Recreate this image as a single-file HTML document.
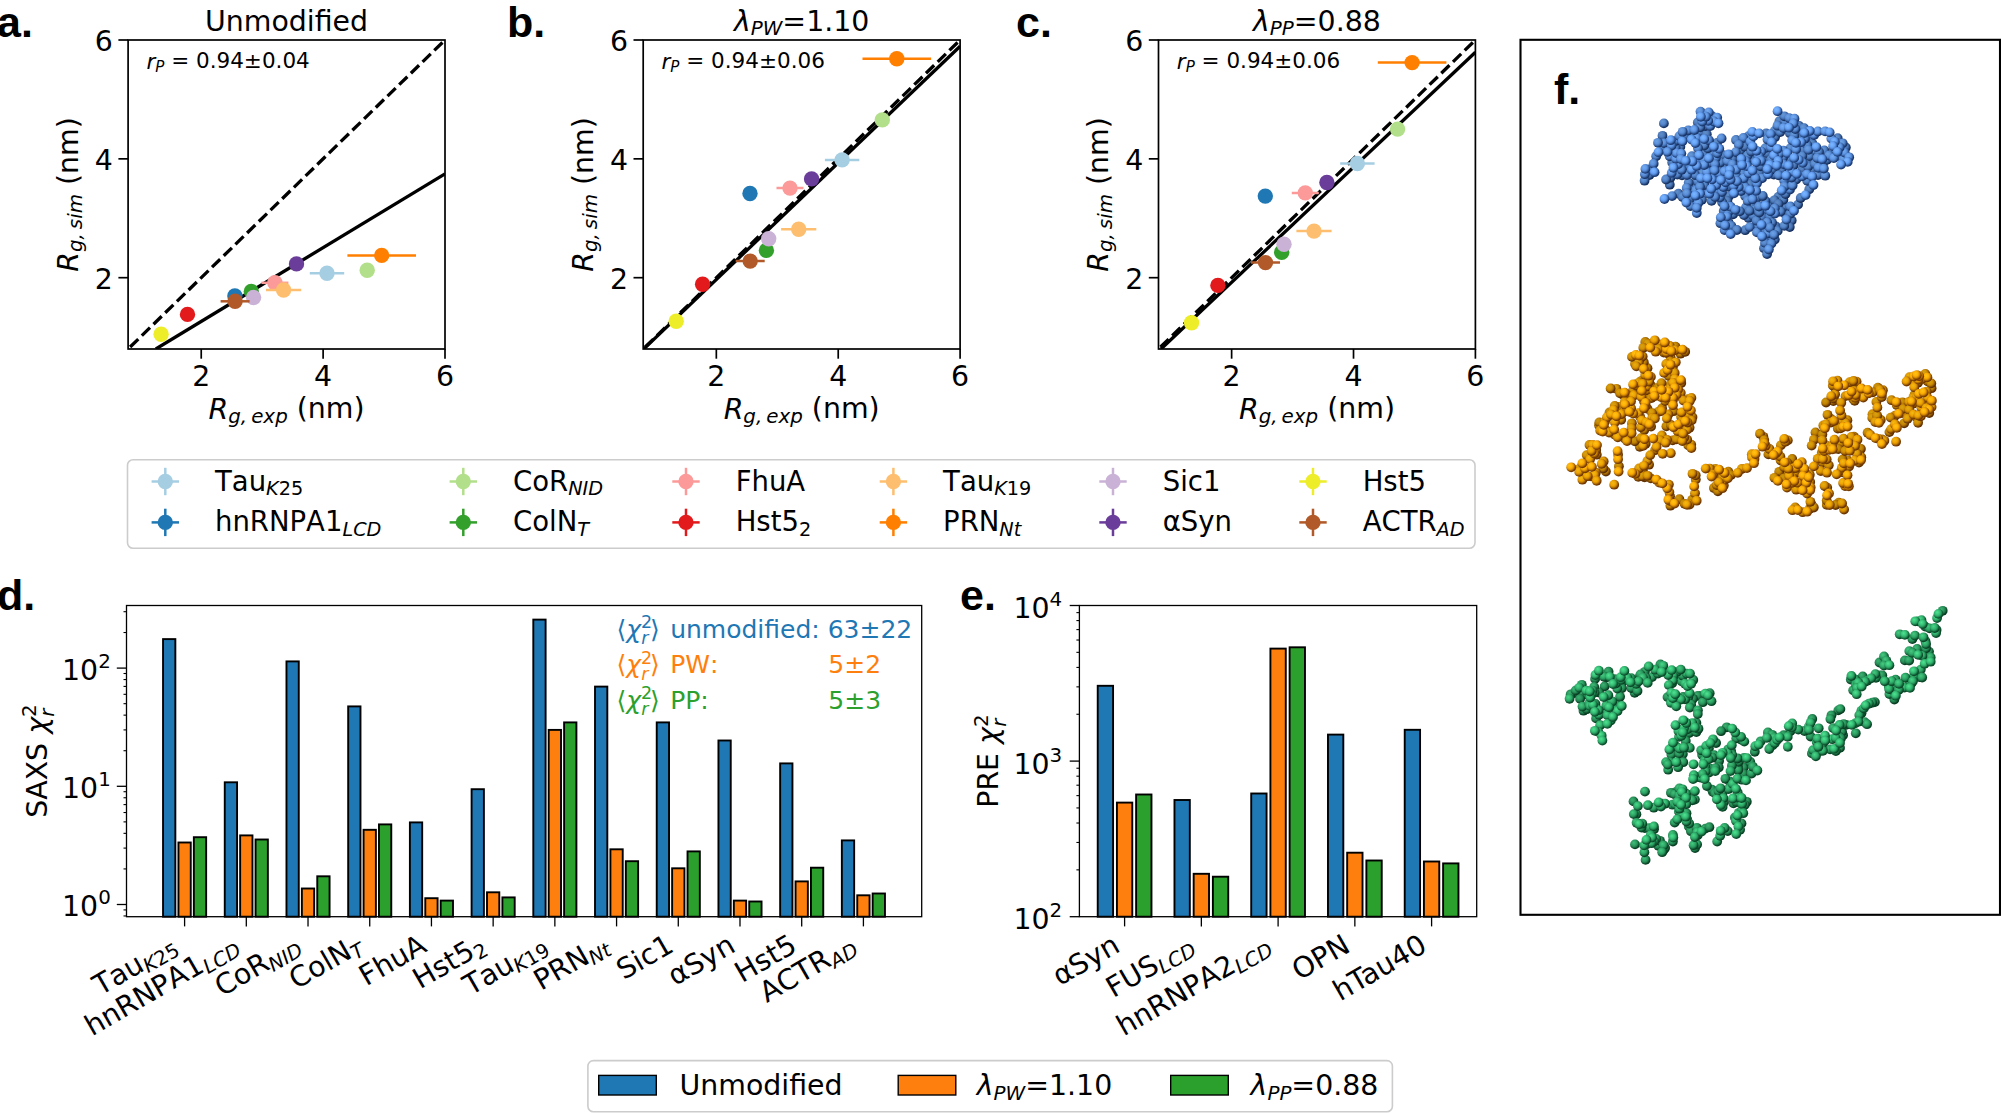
<!DOCTYPE html>
<html><head><meta charset="utf-8"><title>Figure</title>
<style>html,body{margin:0;padding:0;background:#fff;}svg{display:block;font-family:"DejaVu Sans", "Liberation Sans", sans-serif;}</style></head>
<body><svg width="2001" height="1113" viewBox="0 0 2001 1113">
<rect width="2001" height="1113" fill="#fff"/>
<clipPath id="cp0"><rect x="128.1" y="40.0" width="316.9" height="309.0"/></clipPath>
<g clip-path="url(#cp0)">
<line x1="155.80" y1="349.00" x2="445.00" y2="173.80" stroke="#000" stroke-width="3.3" />
<line x1="128.10" y1="349.00" x2="445.00" y2="40.00" stroke="#000" stroke-width="3.3" stroke-dasharray="11.4 4.94" stroke-dashoffset="13.51"/>
<line x1="309.80" y1="273.20" x2="344.20" y2="273.20" stroke="#a6cee3" stroke-width="2.5" />
<circle cx="327.00" cy="273.20" r="7.7" fill="#a6cee3"/>
<circle cx="234.90" cy="295.90" r="7.7" fill="#1f78b4"/>
<circle cx="367.20" cy="270.30" r="7.7" fill="#b2df8a"/>
<circle cx="251.30" cy="291.40" r="7.7" fill="#33a02c"/>
<line x1="261.40" y1="282.80" x2="288.40" y2="282.80" stroke="#fb9a99" stroke-width="2.5" />
<circle cx="274.90" cy="282.80" r="7.7" fill="#fb9a99"/>
<circle cx="187.50" cy="314.40" r="7.7" fill="#e31a1c"/>
<line x1="266.00" y1="290.00" x2="301.20" y2="290.00" stroke="#fdbf6f" stroke-width="2.5" />
<circle cx="283.60" cy="290.00" r="7.7" fill="#fdbf6f"/>
<line x1="347.40" y1="255.40" x2="416.00" y2="255.40" stroke="#ff7f00" stroke-width="2.5" />
<circle cx="381.70" cy="255.40" r="7.7" fill="#ff7f00"/>
<line x1="250.10" y1="297.50" x2="257.10" y2="297.50" stroke="#cab2d6" stroke-width="2.5" />
<circle cx="253.60" cy="297.50" r="7.7" fill="#cab2d6"/>
<circle cx="296.50" cy="263.90" r="7.7" fill="#6a3d9a"/>
<circle cx="161.10" cy="334.20" r="7.7" fill="#eded2a"/>
<line x1="220.60" y1="301.30" x2="249.60" y2="301.30" stroke="#b15928" stroke-width="2.5" />
<circle cx="235.10" cy="301.30" r="7.7" fill="#b15928"/>
</g>
<rect x="128.10" y="40.00" width="316.90" height="309.00" fill="none" stroke="#000" stroke-width="1.7" />
<line x1="201.23" y1="349.00" x2="201.23" y2="358.70" stroke="#000" stroke-width="1.7" />
<text x="201.23" y="385.90" font-size="28.40" text-anchor="middle" fill="#000" font-weight="normal" >2</text>
<line x1="118.40" y1="277.69" x2="128.10" y2="277.69" stroke="#000" stroke-width="1.7" />
<text x="112.90" y="289.09" font-size="28.40" text-anchor="end" fill="#000" font-weight="normal" >2</text>
<line x1="323.12" y1="349.00" x2="323.12" y2="358.70" stroke="#000" stroke-width="1.7" />
<text x="323.12" y="385.90" font-size="28.40" text-anchor="middle" fill="#000" font-weight="normal" >4</text>
<line x1="118.40" y1="158.85" x2="128.10" y2="158.85" stroke="#000" stroke-width="1.7" />
<text x="112.90" y="170.25" font-size="28.40" text-anchor="end" fill="#000" font-weight="normal" >4</text>
<line x1="445.00" y1="349.00" x2="445.00" y2="358.70" stroke="#000" stroke-width="1.7" />
<text x="445.00" y="385.90" font-size="28.40" text-anchor="middle" fill="#000" font-weight="normal" >6</text>
<line x1="118.40" y1="40.00" x2="128.10" y2="40.00" stroke="#000" stroke-width="1.7" />
<text x="112.90" y="51.40" font-size="28.40" text-anchor="end" fill="#000" font-weight="normal" >6</text>
<text x="286.55" y="31.20" font-size="28.40" text-anchor="middle" fill="#000" font-weight="normal" >Unmodified</text>
<text x="146.40" y="68.50" font-size="21.50" text-anchor="start" fill="#000" font-weight="normal"  style="font-kerning:none"><tspan font-style="italic">r</tspan><tspan font-size="70%" dy="0.214em" font-style="italic">P</tspan><tspan font-size="1%" dy="-15.0em">&#8203;</tspan> = 0.94±0.04</text>
<text x="286.55" y="418.50" font-size="28.40" text-anchor="middle" fill="#000" font-weight="normal"  style="font-kerning:none"><tspan font-style="italic">R</tspan><tspan font-size="70%" dy="0.214em" font-style="italic">g,<tspan dx="0.2em">exp</tspan></tspan><tspan font-size="1%" dy="-15.0em">&#8203;</tspan> (nm)</text>
<g transform="translate(77.60,194.50) rotate(-90)">
<text x="0.00" y="0.00" font-size="28.40" text-anchor="middle" fill="#000" font-weight="normal"  style="font-kerning:none"><tspan font-style="italic">R</tspan><tspan font-size="70%" dy="0.214em" font-style="italic">g,<tspan dx="0.2em">sim</tspan></tspan><tspan font-size="1%" dy="-15.0em">&#8203;</tspan> (nm)</text>
</g>
<text x="-3.00" y="37.00" font-size="43.00" text-anchor="start" fill="#000" font-weight="bold" font-family="Liberation Sans, Arial, sans-serif">a.</text>
<clipPath id="cp1"><rect x="643.2" y="40.0" width="316.9" height="309.0"/></clipPath>
<g clip-path="url(#cp1)">
<line x1="643.70" y1="349.00" x2="960.10" y2="46.30" stroke="#000" stroke-width="3.3" />
<line x1="643.20" y1="349.00" x2="960.10" y2="40.00" stroke="#000" stroke-width="3.3" stroke-dasharray="11.4 4.94" stroke-dashoffset="13.51"/>
<line x1="824.90" y1="159.90" x2="859.30" y2="159.90" stroke="#a6cee3" stroke-width="2.5" />
<circle cx="842.10" cy="159.90" r="7.7" fill="#a6cee3"/>
<circle cx="750.00" cy="193.50" r="7.7" fill="#1f78b4"/>
<circle cx="882.30" cy="119.90" r="7.7" fill="#b2df8a"/>
<circle cx="766.40" cy="250.40" r="7.7" fill="#33a02c"/>
<line x1="776.50" y1="188.10" x2="803.50" y2="188.10" stroke="#fb9a99" stroke-width="2.5" />
<circle cx="790.00" cy="188.10" r="7.7" fill="#fb9a99"/>
<circle cx="702.60" cy="284.20" r="7.7" fill="#e31a1c"/>
<line x1="781.10" y1="229.30" x2="816.30" y2="229.30" stroke="#fdbf6f" stroke-width="2.5" />
<circle cx="798.70" cy="229.30" r="7.7" fill="#fdbf6f"/>
<line x1="862.50" y1="58.80" x2="931.10" y2="58.80" stroke="#ff7f00" stroke-width="2.5" />
<circle cx="896.80" cy="58.80" r="7.7" fill="#ff7f00"/>
<line x1="765.20" y1="238.80" x2="772.20" y2="238.80" stroke="#cab2d6" stroke-width="2.5" />
<circle cx="768.70" cy="238.80" r="7.7" fill="#cab2d6"/>
<circle cx="811.60" cy="178.90" r="7.7" fill="#6a3d9a"/>
<circle cx="676.20" cy="321.30" r="7.7" fill="#eded2a"/>
<line x1="735.70" y1="261.10" x2="764.70" y2="261.10" stroke="#b15928" stroke-width="2.5" />
<circle cx="750.20" cy="261.10" r="7.7" fill="#b15928"/>
</g>
<rect x="643.20" y="40.00" width="316.90" height="309.00" fill="none" stroke="#000" stroke-width="1.7" />
<line x1="716.33" y1="349.00" x2="716.33" y2="358.70" stroke="#000" stroke-width="1.7" />
<text x="716.33" y="385.90" font-size="28.40" text-anchor="middle" fill="#000" font-weight="normal" >2</text>
<line x1="633.50" y1="277.69" x2="643.20" y2="277.69" stroke="#000" stroke-width="1.7" />
<text x="628.00" y="289.09" font-size="28.40" text-anchor="end" fill="#000" font-weight="normal" >2</text>
<line x1="838.22" y1="349.00" x2="838.22" y2="358.70" stroke="#000" stroke-width="1.7" />
<text x="838.22" y="385.90" font-size="28.40" text-anchor="middle" fill="#000" font-weight="normal" >4</text>
<line x1="633.50" y1="158.85" x2="643.20" y2="158.85" stroke="#000" stroke-width="1.7" />
<text x="628.00" y="170.25" font-size="28.40" text-anchor="end" fill="#000" font-weight="normal" >4</text>
<line x1="960.10" y1="349.00" x2="960.10" y2="358.70" stroke="#000" stroke-width="1.7" />
<text x="960.10" y="385.90" font-size="28.40" text-anchor="middle" fill="#000" font-weight="normal" >6</text>
<line x1="633.50" y1="40.00" x2="643.20" y2="40.00" stroke="#000" stroke-width="1.7" />
<text x="628.00" y="51.40" font-size="28.40" text-anchor="end" fill="#000" font-weight="normal" >6</text>
<text x="801.65" y="31.20" font-size="28.40" text-anchor="middle" fill="#000" font-weight="normal"  style="font-kerning:none"><tspan font-style="italic">λ</tspan><tspan font-size="70%" dy="0.214em" font-style="italic">PW</tspan><tspan font-size="1%" dy="-15.0em">&#8203;</tspan>=1.10</text>
<text x="661.50" y="68.50" font-size="21.50" text-anchor="start" fill="#000" font-weight="normal"  style="font-kerning:none"><tspan font-style="italic">r</tspan><tspan font-size="70%" dy="0.214em" font-style="italic">P</tspan><tspan font-size="1%" dy="-15.0em">&#8203;</tspan> = 0.94±0.06</text>
<text x="801.65" y="418.50" font-size="28.40" text-anchor="middle" fill="#000" font-weight="normal"  style="font-kerning:none"><tspan font-style="italic">R</tspan><tspan font-size="70%" dy="0.214em" font-style="italic">g,<tspan dx="0.2em">exp</tspan></tspan><tspan font-size="1%" dy="-15.0em">&#8203;</tspan> (nm)</text>
<g transform="translate(592.70,194.50) rotate(-90)">
<text x="0.00" y="0.00" font-size="28.40" text-anchor="middle" fill="#000" font-weight="normal"  style="font-kerning:none"><tspan font-style="italic">R</tspan><tspan font-size="70%" dy="0.214em" font-style="italic">g,<tspan dx="0.2em">sim</tspan></tspan><tspan font-size="1%" dy="-15.0em">&#8203;</tspan> (nm)</text>
</g>
<text x="507.00" y="37.00" font-size="43.00" text-anchor="start" fill="#000" font-weight="bold" font-family="Liberation Sans, Arial, sans-serif">b.</text>
<clipPath id="cp2"><rect x="1158.5" y="40.0" width="316.9" height="309.0"/></clipPath>
<g clip-path="url(#cp2)">
<line x1="1161.00" y1="349.00" x2="1475.40" y2="52.20" stroke="#000" stroke-width="3.3" />
<line x1="1158.50" y1="349.00" x2="1475.40" y2="40.00" stroke="#000" stroke-width="3.3" stroke-dasharray="11.4 4.94" stroke-dashoffset="13.51"/>
<line x1="1340.20" y1="163.50" x2="1374.60" y2="163.50" stroke="#a6cee3" stroke-width="2.5" />
<circle cx="1357.40" cy="163.50" r="7.7" fill="#a6cee3"/>
<circle cx="1265.30" cy="196.10" r="7.7" fill="#1f78b4"/>
<circle cx="1397.60" cy="129.10" r="7.7" fill="#b2df8a"/>
<circle cx="1281.70" cy="252.20" r="7.7" fill="#33a02c"/>
<line x1="1291.80" y1="192.90" x2="1318.80" y2="192.90" stroke="#fb9a99" stroke-width="2.5" />
<circle cx="1305.30" cy="192.90" r="7.7" fill="#fb9a99"/>
<circle cx="1217.90" cy="285.40" r="7.7" fill="#e31a1c"/>
<line x1="1296.40" y1="231.10" x2="1331.60" y2="231.10" stroke="#fdbf6f" stroke-width="2.5" />
<circle cx="1314.00" cy="231.10" r="7.7" fill="#fdbf6f"/>
<line x1="1377.80" y1="62.60" x2="1446.40" y2="62.60" stroke="#ff7f00" stroke-width="2.5" />
<circle cx="1412.10" cy="62.60" r="7.7" fill="#ff7f00"/>
<line x1="1280.50" y1="244.20" x2="1287.50" y2="244.20" stroke="#cab2d6" stroke-width="2.5" />
<circle cx="1284.00" cy="244.20" r="7.7" fill="#cab2d6"/>
<circle cx="1326.90" cy="182.50" r="7.7" fill="#6a3d9a"/>
<circle cx="1191.50" cy="322.80" r="7.7" fill="#eded2a"/>
<line x1="1251.00" y1="262.60" x2="1280.00" y2="262.60" stroke="#b15928" stroke-width="2.5" />
<circle cx="1265.50" cy="262.60" r="7.7" fill="#b15928"/>
</g>
<rect x="1158.50" y="40.00" width="316.90" height="309.00" fill="none" stroke="#000" stroke-width="1.7" />
<line x1="1231.63" y1="349.00" x2="1231.63" y2="358.70" stroke="#000" stroke-width="1.7" />
<text x="1231.63" y="385.90" font-size="28.40" text-anchor="middle" fill="#000" font-weight="normal" >2</text>
<line x1="1148.80" y1="277.69" x2="1158.50" y2="277.69" stroke="#000" stroke-width="1.7" />
<text x="1143.30" y="289.09" font-size="28.40" text-anchor="end" fill="#000" font-weight="normal" >2</text>
<line x1="1353.52" y1="349.00" x2="1353.52" y2="358.70" stroke="#000" stroke-width="1.7" />
<text x="1353.52" y="385.90" font-size="28.40" text-anchor="middle" fill="#000" font-weight="normal" >4</text>
<line x1="1148.80" y1="158.85" x2="1158.50" y2="158.85" stroke="#000" stroke-width="1.7" />
<text x="1143.30" y="170.25" font-size="28.40" text-anchor="end" fill="#000" font-weight="normal" >4</text>
<line x1="1475.40" y1="349.00" x2="1475.40" y2="358.70" stroke="#000" stroke-width="1.7" />
<text x="1475.40" y="385.90" font-size="28.40" text-anchor="middle" fill="#000" font-weight="normal" >6</text>
<line x1="1148.80" y1="40.00" x2="1158.50" y2="40.00" stroke="#000" stroke-width="1.7" />
<text x="1143.30" y="51.40" font-size="28.40" text-anchor="end" fill="#000" font-weight="normal" >6</text>
<text x="1316.95" y="31.20" font-size="28.40" text-anchor="middle" fill="#000" font-weight="normal"  style="font-kerning:none"><tspan font-style="italic">λ</tspan><tspan font-size="70%" dy="0.214em" font-style="italic">PP</tspan><tspan font-size="1%" dy="-15.0em">&#8203;</tspan>=0.88</text>
<text x="1176.80" y="68.50" font-size="21.50" text-anchor="start" fill="#000" font-weight="normal"  style="font-kerning:none"><tspan font-style="italic">r</tspan><tspan font-size="70%" dy="0.214em" font-style="italic">P</tspan><tspan font-size="1%" dy="-15.0em">&#8203;</tspan> = 0.94±0.06</text>
<text x="1316.95" y="418.50" font-size="28.40" text-anchor="middle" fill="#000" font-weight="normal"  style="font-kerning:none"><tspan font-style="italic">R</tspan><tspan font-size="70%" dy="0.214em" font-style="italic">g,<tspan dx="0.2em">exp</tspan></tspan><tspan font-size="1%" dy="-15.0em">&#8203;</tspan> (nm)</text>
<g transform="translate(1108.00,194.50) rotate(-90)">
<text x="0.00" y="0.00" font-size="28.40" text-anchor="middle" fill="#000" font-weight="normal"  style="font-kerning:none"><tspan font-style="italic">R</tspan><tspan font-size="70%" dy="0.214em" font-style="italic">g,<tspan dx="0.2em">sim</tspan></tspan><tspan font-size="1%" dy="-15.0em">&#8203;</tspan> (nm)</text>
</g>
<text x="1016.00" y="37.00" font-size="43.00" text-anchor="start" fill="#000" font-weight="bold" font-family="Liberation Sans, Arial, sans-serif">c.</text>
<rect x="127.50" y="459.80" width="1347.50" height="88.50" fill="#fff" stroke="#ccc" stroke-width="1.6" rx="5.5"/>
<line x1="151.60" y1="481.50" x2="179.00" y2="481.50" stroke="#a6cee3" stroke-width="2.5" />
<line x1="165.30" y1="467.80" x2="165.30" y2="495.20" stroke="#a6cee3" stroke-width="2.5" />
<circle cx="165.3" cy="481.5" r="7.7" fill="#a6cee3"/>
<text x="215.00" y="491.10" font-size="27.50" text-anchor="start" fill="#000" font-weight="normal"  style="font-kerning:none">Tau<tspan font-size="70%" dy="0.214em"><tspan font-style="italic">K</tspan>25</tspan><tspan font-size="1%" dy="-15em">&#8203;</tspan></text>
<line x1="151.60" y1="522.40" x2="179.00" y2="522.40" stroke="#1f78b4" stroke-width="2.5" />
<line x1="165.30" y1="508.70" x2="165.30" y2="536.10" stroke="#1f78b4" stroke-width="2.5" />
<circle cx="165.3" cy="522.4" r="7.7" fill="#1f78b4"/>
<text x="215.00" y="531.40" font-size="27.50" text-anchor="start" fill="#000" font-weight="normal"  style="font-kerning:none">hnRNPA1<tspan font-size="70%" dy="0.214em" font-style="italic">LCD</tspan><tspan font-size="1%" dy="-15.0em">&#8203;</tspan></text>
<line x1="449.60" y1="481.50" x2="477.00" y2="481.50" stroke="#b2df8a" stroke-width="2.5" />
<line x1="463.30" y1="467.80" x2="463.30" y2="495.20" stroke="#b2df8a" stroke-width="2.5" />
<circle cx="463.3" cy="481.5" r="7.7" fill="#b2df8a"/>
<text x="513.00" y="491.10" font-size="27.50" text-anchor="start" fill="#000" font-weight="normal"  style="font-kerning:none">CoR<tspan font-size="70%" dy="0.214em" font-style="italic">NID</tspan><tspan font-size="1%" dy="-15.0em">&#8203;</tspan></text>
<line x1="449.60" y1="522.40" x2="477.00" y2="522.40" stroke="#33a02c" stroke-width="2.5" />
<line x1="463.30" y1="508.70" x2="463.30" y2="536.10" stroke="#33a02c" stroke-width="2.5" />
<circle cx="463.3" cy="522.4" r="7.7" fill="#33a02c"/>
<text x="513.00" y="531.40" font-size="27.50" text-anchor="start" fill="#000" font-weight="normal"  style="font-kerning:none">ColN<tspan font-size="70%" dy="0.214em" font-style="italic">T</tspan><tspan font-size="1%" dy="-15.0em">&#8203;</tspan></text>
<line x1="672.30" y1="481.50" x2="699.70" y2="481.50" stroke="#fb9a99" stroke-width="2.5" />
<line x1="686.00" y1="467.80" x2="686.00" y2="495.20" stroke="#fb9a99" stroke-width="2.5" />
<circle cx="686.0" cy="481.5" r="7.7" fill="#fb9a99"/>
<text x="735.70" y="491.10" font-size="27.50" text-anchor="start" fill="#000" font-weight="normal" >FhuA</text>
<line x1="672.30" y1="522.40" x2="699.70" y2="522.40" stroke="#e31a1c" stroke-width="2.5" />
<line x1="686.00" y1="508.70" x2="686.00" y2="536.10" stroke="#e31a1c" stroke-width="2.5" />
<circle cx="686.0" cy="522.4" r="7.7" fill="#e31a1c"/>
<text x="735.70" y="531.40" font-size="27.50" text-anchor="start" fill="#000" font-weight="normal"  style="font-kerning:none">Hst5<tspan font-size="70%" dy="0.214em">2</tspan><tspan font-size="1%" dy="-15.0em">&#8203;</tspan></text>
<line x1="879.70" y1="481.50" x2="907.10" y2="481.50" stroke="#fdbf6f" stroke-width="2.5" />
<line x1="893.40" y1="467.80" x2="893.40" y2="495.20" stroke="#fdbf6f" stroke-width="2.5" />
<circle cx="893.4" cy="481.5" r="7.7" fill="#fdbf6f"/>
<text x="943.10" y="491.10" font-size="27.50" text-anchor="start" fill="#000" font-weight="normal"  style="font-kerning:none">Tau<tspan font-size="70%" dy="0.214em"><tspan font-style="italic">K</tspan>19</tspan><tspan font-size="1%" dy="-15em">&#8203;</tspan></text>
<line x1="879.70" y1="522.40" x2="907.10" y2="522.40" stroke="#ff7f00" stroke-width="2.5" />
<line x1="893.40" y1="508.70" x2="893.40" y2="536.10" stroke="#ff7f00" stroke-width="2.5" />
<circle cx="893.4" cy="522.4" r="7.7" fill="#ff7f00"/>
<text x="943.10" y="531.40" font-size="27.50" text-anchor="start" fill="#000" font-weight="normal"  style="font-kerning:none">PRN<tspan font-size="70%" dy="0.214em" font-style="italic">Nt</tspan><tspan font-size="1%" dy="-15.0em">&#8203;</tspan></text>
<line x1="1099.30" y1="481.50" x2="1126.70" y2="481.50" stroke="#cab2d6" stroke-width="2.5" />
<line x1="1113.00" y1="467.80" x2="1113.00" y2="495.20" stroke="#cab2d6" stroke-width="2.5" />
<circle cx="1113.0" cy="481.5" r="7.7" fill="#cab2d6"/>
<text x="1162.70" y="491.10" font-size="27.50" text-anchor="start" fill="#000" font-weight="normal" >Sic1</text>
<line x1="1099.30" y1="522.40" x2="1126.70" y2="522.40" stroke="#6a3d9a" stroke-width="2.5" />
<line x1="1113.00" y1="508.70" x2="1113.00" y2="536.10" stroke="#6a3d9a" stroke-width="2.5" />
<circle cx="1113.0" cy="522.4" r="7.7" fill="#6a3d9a"/>
<text x="1162.70" y="531.40" font-size="27.50" text-anchor="start" fill="#000" font-weight="normal" >αSyn</text>
<line x1="1299.30" y1="481.50" x2="1326.70" y2="481.50" stroke="#eded2a" stroke-width="2.5" />
<line x1="1313.00" y1="467.80" x2="1313.00" y2="495.20" stroke="#eded2a" stroke-width="2.5" />
<circle cx="1313.0" cy="481.5" r="7.7" fill="#eded2a"/>
<text x="1362.70" y="491.10" font-size="27.50" text-anchor="start" fill="#000" font-weight="normal" >Hst5</text>
<line x1="1299.30" y1="522.40" x2="1326.70" y2="522.40" stroke="#b15928" stroke-width="2.5" />
<line x1="1313.00" y1="508.70" x2="1313.00" y2="536.10" stroke="#b15928" stroke-width="2.5" />
<circle cx="1313.0" cy="522.4" r="7.7" fill="#b15928"/>
<text x="1362.70" y="531.40" font-size="27.50" text-anchor="start" fill="#000" font-weight="normal"  style="font-kerning:none">ACTR<tspan font-size="70%" dy="0.214em" font-style="italic">AD</tspan><tspan font-size="1%" dy="-15.0em">&#8203;</tspan></text>
<rect x="163.05" y="639.10" width="12.30" height="277.60" fill="#1f77b4" stroke="#000" stroke-width="1.9" />
<rect x="178.45" y="842.50" width="12.30" height="74.20" fill="#ff7f0e" stroke="#000" stroke-width="1.9" />
<rect x="193.85" y="837.20" width="12.30" height="79.50" fill="#2ca02c" stroke="#000" stroke-width="1.9" />
<rect x="224.76" y="782.30" width="12.30" height="134.40" fill="#1f77b4" stroke="#000" stroke-width="1.9" />
<rect x="240.16" y="835.40" width="12.30" height="81.30" fill="#ff7f0e" stroke="#000" stroke-width="1.9" />
<rect x="255.56" y="839.50" width="12.30" height="77.20" fill="#2ca02c" stroke="#000" stroke-width="1.9" />
<rect x="286.47" y="661.40" width="12.30" height="255.30" fill="#1f77b4" stroke="#000" stroke-width="1.9" />
<rect x="301.87" y="888.50" width="12.30" height="28.20" fill="#ff7f0e" stroke="#000" stroke-width="1.9" />
<rect x="317.27" y="876.30" width="12.30" height="40.40" fill="#2ca02c" stroke="#000" stroke-width="1.9" />
<rect x="348.18" y="706.40" width="12.30" height="210.30" fill="#1f77b4" stroke="#000" stroke-width="1.9" />
<rect x="363.58" y="829.80" width="12.30" height="86.90" fill="#ff7f0e" stroke="#000" stroke-width="1.9" />
<rect x="378.98" y="824.40" width="12.30" height="92.30" fill="#2ca02c" stroke="#000" stroke-width="1.9" />
<rect x="409.89" y="822.40" width="12.30" height="94.30" fill="#1f77b4" stroke="#000" stroke-width="1.9" />
<rect x="425.29" y="898.20" width="12.30" height="18.50" fill="#ff7f0e" stroke="#000" stroke-width="1.9" />
<rect x="440.69" y="900.60" width="12.30" height="16.10" fill="#2ca02c" stroke="#000" stroke-width="1.9" />
<rect x="471.60" y="789.20" width="12.30" height="127.50" fill="#1f77b4" stroke="#000" stroke-width="1.9" />
<rect x="487.00" y="892.30" width="12.30" height="24.40" fill="#ff7f0e" stroke="#000" stroke-width="1.9" />
<rect x="502.40" y="897.40" width="12.30" height="19.30" fill="#2ca02c" stroke="#000" stroke-width="1.9" />
<rect x="533.31" y="619.60" width="12.30" height="297.10" fill="#1f77b4" stroke="#000" stroke-width="1.9" />
<rect x="548.71" y="729.90" width="12.30" height="186.80" fill="#ff7f0e" stroke="#000" stroke-width="1.9" />
<rect x="564.11" y="722.40" width="12.30" height="194.30" fill="#2ca02c" stroke="#000" stroke-width="1.9" />
<rect x="595.02" y="686.60" width="12.30" height="230.10" fill="#1f77b4" stroke="#000" stroke-width="1.9" />
<rect x="610.42" y="849.30" width="12.30" height="67.40" fill="#ff7f0e" stroke="#000" stroke-width="1.9" />
<rect x="625.82" y="861.20" width="12.30" height="55.50" fill="#2ca02c" stroke="#000" stroke-width="1.9" />
<rect x="656.73" y="722.40" width="12.30" height="194.30" fill="#1f77b4" stroke="#000" stroke-width="1.9" />
<rect x="672.13" y="868.30" width="12.30" height="48.40" fill="#ff7f0e" stroke="#000" stroke-width="1.9" />
<rect x="687.53" y="851.40" width="12.30" height="65.30" fill="#2ca02c" stroke="#000" stroke-width="1.9" />
<rect x="718.44" y="740.50" width="12.30" height="176.20" fill="#1f77b4" stroke="#000" stroke-width="1.9" />
<rect x="733.84" y="900.60" width="12.30" height="16.10" fill="#ff7f0e" stroke="#000" stroke-width="1.9" />
<rect x="749.24" y="901.50" width="12.30" height="15.20" fill="#2ca02c" stroke="#000" stroke-width="1.9" />
<rect x="780.15" y="763.40" width="12.30" height="153.30" fill="#1f77b4" stroke="#000" stroke-width="1.9" />
<rect x="795.55" y="881.40" width="12.30" height="35.30" fill="#ff7f0e" stroke="#000" stroke-width="1.9" />
<rect x="810.95" y="867.70" width="12.30" height="49.00" fill="#2ca02c" stroke="#000" stroke-width="1.9" />
<rect x="841.86" y="840.40" width="12.30" height="76.30" fill="#1f77b4" stroke="#000" stroke-width="1.9" />
<rect x="857.26" y="895.30" width="12.30" height="21.40" fill="#ff7f0e" stroke="#000" stroke-width="1.9" />
<rect x="872.66" y="893.50" width="12.30" height="23.20" fill="#2ca02c" stroke="#000" stroke-width="1.9" />
<rect x="126.50" y="605.50" width="795.20" height="311.20" fill="none" stroke="#000" stroke-width="1.3" />
<line x1="184.60" y1="916.70" x2="184.60" y2="926.40" stroke="#000" stroke-width="1.3" />
<line x1="246.31" y1="916.70" x2="246.31" y2="926.40" stroke="#000" stroke-width="1.3" />
<line x1="308.02" y1="916.70" x2="308.02" y2="926.40" stroke="#000" stroke-width="1.3" />
<line x1="369.73" y1="916.70" x2="369.73" y2="926.40" stroke="#000" stroke-width="1.3" />
<line x1="431.44" y1="916.70" x2="431.44" y2="926.40" stroke="#000" stroke-width="1.3" />
<line x1="493.15" y1="916.70" x2="493.15" y2="926.40" stroke="#000" stroke-width="1.3" />
<line x1="554.86" y1="916.70" x2="554.86" y2="926.40" stroke="#000" stroke-width="1.3" />
<line x1="616.57" y1="916.70" x2="616.57" y2="926.40" stroke="#000" stroke-width="1.3" />
<line x1="678.28" y1="916.70" x2="678.28" y2="926.40" stroke="#000" stroke-width="1.3" />
<line x1="739.99" y1="916.70" x2="739.99" y2="926.40" stroke="#000" stroke-width="1.3" />
<line x1="801.70" y1="916.70" x2="801.70" y2="926.40" stroke="#000" stroke-width="1.3" />
<line x1="863.41" y1="916.70" x2="863.41" y2="926.40" stroke="#000" stroke-width="1.3" />
<line x1="116.80" y1="904.50" x2="126.50" y2="904.50" stroke="#000" stroke-width="1.3" />
<text x="110.80" y="915.90" font-size="28.40" text-anchor="end" fill="#000" font-weight="normal"  style="font-kerning:none">10<tspan font-size="70%" dy="-0.586em">0</tspan><tspan font-size="1%" dy="41.0em">&#8203;</tspan></text>
<line x1="116.80" y1="786.30" x2="126.50" y2="786.30" stroke="#000" stroke-width="1.3" />
<text x="110.80" y="797.70" font-size="28.40" text-anchor="end" fill="#000" font-weight="normal"  style="font-kerning:none">10<tspan font-size="70%" dy="-0.586em">1</tspan><tspan font-size="1%" dy="41.0em">&#8203;</tspan></text>
<line x1="116.80" y1="668.10" x2="126.50" y2="668.10" stroke="#000" stroke-width="1.3" />
<text x="110.80" y="679.50" font-size="28.40" text-anchor="end" fill="#000" font-weight="normal"  style="font-kerning:none">10<tspan font-size="70%" dy="-0.586em">2</tspan><tspan font-size="1%" dy="41.0em">&#8203;</tspan></text>
<line x1="123.50" y1="915.95" x2="126.50" y2="915.95" stroke="#000" stroke-width="1.1" />
<line x1="123.50" y1="909.91" x2="126.50" y2="909.91" stroke="#000" stroke-width="1.1" />
<line x1="123.50" y1="868.92" x2="126.50" y2="868.92" stroke="#000" stroke-width="1.1" />
<line x1="123.50" y1="848.10" x2="126.50" y2="848.10" stroke="#000" stroke-width="1.1" />
<line x1="123.50" y1="833.34" x2="126.50" y2="833.34" stroke="#000" stroke-width="1.1" />
<line x1="123.50" y1="821.88" x2="126.50" y2="821.88" stroke="#000" stroke-width="1.1" />
<line x1="123.50" y1="812.52" x2="126.50" y2="812.52" stroke="#000" stroke-width="1.1" />
<line x1="123.50" y1="804.61" x2="126.50" y2="804.61" stroke="#000" stroke-width="1.1" />
<line x1="123.50" y1="797.75" x2="126.50" y2="797.75" stroke="#000" stroke-width="1.1" />
<line x1="123.50" y1="791.71" x2="126.50" y2="791.71" stroke="#000" stroke-width="1.1" />
<line x1="123.50" y1="750.72" x2="126.50" y2="750.72" stroke="#000" stroke-width="1.1" />
<line x1="123.50" y1="729.90" x2="126.50" y2="729.90" stroke="#000" stroke-width="1.1" />
<line x1="123.50" y1="715.14" x2="126.50" y2="715.14" stroke="#000" stroke-width="1.1" />
<line x1="123.50" y1="703.68" x2="126.50" y2="703.68" stroke="#000" stroke-width="1.1" />
<line x1="123.50" y1="694.32" x2="126.50" y2="694.32" stroke="#000" stroke-width="1.1" />
<line x1="123.50" y1="686.41" x2="126.50" y2="686.41" stroke="#000" stroke-width="1.1" />
<line x1="123.50" y1="679.55" x2="126.50" y2="679.55" stroke="#000" stroke-width="1.1" />
<line x1="123.50" y1="673.51" x2="126.50" y2="673.51" stroke="#000" stroke-width="1.1" />
<line x1="123.50" y1="632.52" x2="126.50" y2="632.52" stroke="#000" stroke-width="1.1" />
<line x1="123.50" y1="611.70" x2="126.50" y2="611.70" stroke="#000" stroke-width="1.1" />
<g transform="translate(46.5,761.1) rotate(-90)">
<text x="0.00" y="0.00" font-size="28.40" text-anchor="middle" fill="#000" font-weight="normal"  style="font-kerning:none">SAXS <tspan font-style="italic">χ</tspan><tspan font-size="70%" dy="-0.52em">2</tspan><tspan font-size="70%" dy="0.9em" dx="-0.62em" font-style="italic">r</tspan></text>
</g>
<text x="-3.00" y="610.00" font-size="43.00" text-anchor="start" fill="#000" font-weight="bold" font-family="Liberation Sans, Arial, sans-serif">d.</text>
<text x="616.40" y="637.50" font-size="25.00" text-anchor="start" fill="#1f77b4" font-weight="normal"  style="font-kerning:none">⟨<tspan font-style="italic">χ</tspan><tspan font-size="70%" dy="-0.52em">2</tspan><tspan font-size="70%" dy="0.9em" dx="-0.62em" font-style="italic">r</tspan><tspan dy="-0.266em" dx="0.06em">⟩</tspan><tspan dx="0.1em">&#8203;</tspan> unmodified: 63±22</text>
<text x="616.40" y="673.00" font-size="25.00" text-anchor="start" fill="#ff7f0e" font-weight="normal"  style="font-kerning:none">⟨<tspan font-style="italic">χ</tspan><tspan font-size="70%" dy="-0.52em">2</tspan><tspan font-size="70%" dy="0.9em" dx="-0.62em" font-style="italic">r</tspan><tspan dy="-0.266em" dx="0.06em">⟩</tspan><tspan dx="0.1em">&#8203;</tspan> PW:</text>
<text x="828.30" y="673.00" font-size="25.00" text-anchor="start" fill="#ff7f0e" font-weight="normal" >5±2</text>
<text x="616.40" y="708.50" font-size="25.00" text-anchor="start" fill="#2ca02c" font-weight="normal"  style="font-kerning:none">⟨<tspan font-style="italic">χ</tspan><tspan font-size="70%" dy="-0.52em">2</tspan><tspan font-size="70%" dy="0.9em" dx="-0.62em" font-style="italic">r</tspan><tspan dy="-0.266em" dx="0.06em">⟩</tspan><tspan dx="0.1em">&#8203;</tspan> PP:</text>
<text x="828.30" y="708.50" font-size="25.00" text-anchor="start" fill="#2ca02c" font-weight="normal" >5±3</text>
<g transform="translate(179.00,950.50) rotate(-30)">
<text x="0.00" y="0.00" font-size="28.40" text-anchor="end" fill="#000" font-weight="normal"  style="font-kerning:none">Tau<tspan font-size="70%" dy="0.214em"><tspan font-style="italic">K</tspan>25</tspan><tspan font-size="1%" dy="-15em">&#8203;</tspan></text>
</g>
<g transform="translate(240.71,950.50) rotate(-30)">
<text x="0.00" y="0.00" font-size="28.40" text-anchor="end" fill="#000" font-weight="normal"  style="font-kerning:none">hnRNPA1<tspan font-size="70%" dy="0.214em" font-style="italic">LCD</tspan><tspan font-size="1%" dy="-15.0em">&#8203;</tspan></text>
</g>
<g transform="translate(302.42,950.50) rotate(-30)">
<text x="0.00" y="0.00" font-size="28.40" text-anchor="end" fill="#000" font-weight="normal"  style="font-kerning:none">CoR<tspan font-size="70%" dy="0.214em" font-style="italic">NID</tspan><tspan font-size="1%" dy="-15.0em">&#8203;</tspan></text>
</g>
<g transform="translate(364.13,950.50) rotate(-30)">
<text x="0.00" y="0.00" font-size="28.40" text-anchor="end" fill="#000" font-weight="normal"  style="font-kerning:none">ColN<tspan font-size="70%" dy="0.214em" font-style="italic">T</tspan><tspan font-size="1%" dy="-15.0em">&#8203;</tspan></text>
</g>
<g transform="translate(428.44,950.50) rotate(-30)">
<text x="0.00" y="0.00" font-size="28.40" text-anchor="end" fill="#000" font-weight="normal" >FhuA</text>
</g>
<g transform="translate(487.55,950.50) rotate(-30)">
<text x="0.00" y="0.00" font-size="28.40" text-anchor="end" fill="#000" font-weight="normal"  style="font-kerning:none">Hst5<tspan font-size="70%" dy="0.214em">2</tspan><tspan font-size="1%" dy="-15.0em">&#8203;</tspan></text>
</g>
<g transform="translate(549.26,950.50) rotate(-30)">
<text x="0.00" y="0.00" font-size="28.40" text-anchor="end" fill="#000" font-weight="normal"  style="font-kerning:none">Tau<tspan font-size="70%" dy="0.214em"><tspan font-style="italic">K</tspan>19</tspan><tspan font-size="1%" dy="-15em">&#8203;</tspan></text>
</g>
<g transform="translate(610.97,950.50) rotate(-30)">
<text x="0.00" y="0.00" font-size="28.40" text-anchor="end" fill="#000" font-weight="normal"  style="font-kerning:none">PRN<tspan font-size="70%" dy="0.214em" font-style="italic">Nt</tspan><tspan font-size="1%" dy="-15.0em">&#8203;</tspan></text>
</g>
<g transform="translate(675.28,950.50) rotate(-30)">
<text x="0.00" y="0.00" font-size="28.40" text-anchor="end" fill="#000" font-weight="normal" >Sic1</text>
</g>
<g transform="translate(736.99,950.50) rotate(-30)">
<text x="0.00" y="0.00" font-size="28.40" text-anchor="end" fill="#000" font-weight="normal" >αSyn</text>
</g>
<g transform="translate(798.70,950.50) rotate(-30)">
<text x="0.00" y="0.00" font-size="28.40" text-anchor="end" fill="#000" font-weight="normal" >Hst5</text>
</g>
<g transform="translate(857.81,950.50) rotate(-30)">
<text x="0.00" y="0.00" font-size="28.40" text-anchor="end" fill="#000" font-weight="normal"  style="font-kerning:none">ACTR<tspan font-size="70%" dy="0.214em" font-style="italic">AD</tspan><tspan font-size="1%" dy="-15.0em">&#8203;</tspan></text>
</g>
<rect x="1097.72" y="685.80" width="15.35" height="230.90" fill="#1f77b4" stroke="#000" stroke-width="1.9" />
<rect x="1116.92" y="802.60" width="15.35" height="114.10" fill="#ff7f0e" stroke="#000" stroke-width="1.9" />
<rect x="1136.12" y="794.50" width="15.35" height="122.20" fill="#2ca02c" stroke="#000" stroke-width="1.9" />
<rect x="1174.47" y="800.00" width="15.35" height="116.70" fill="#1f77b4" stroke="#000" stroke-width="1.9" />
<rect x="1193.67" y="873.80" width="15.35" height="42.90" fill="#ff7f0e" stroke="#000" stroke-width="1.9" />
<rect x="1212.88" y="876.70" width="15.35" height="40.00" fill="#2ca02c" stroke="#000" stroke-width="1.9" />
<rect x="1251.22" y="793.50" width="15.35" height="123.20" fill="#1f77b4" stroke="#000" stroke-width="1.9" />
<rect x="1270.42" y="648.60" width="15.35" height="268.10" fill="#ff7f0e" stroke="#000" stroke-width="1.9" />
<rect x="1289.62" y="647.30" width="15.35" height="269.40" fill="#2ca02c" stroke="#000" stroke-width="1.9" />
<rect x="1327.97" y="734.60" width="15.35" height="182.10" fill="#1f77b4" stroke="#000" stroke-width="1.9" />
<rect x="1347.17" y="852.70" width="15.35" height="64.00" fill="#ff7f0e" stroke="#000" stroke-width="1.9" />
<rect x="1366.38" y="860.50" width="15.35" height="56.20" fill="#2ca02c" stroke="#000" stroke-width="1.9" />
<rect x="1404.72" y="729.80" width="15.35" height="186.90" fill="#1f77b4" stroke="#000" stroke-width="1.9" />
<rect x="1423.92" y="861.50" width="15.35" height="55.20" fill="#ff7f0e" stroke="#000" stroke-width="1.9" />
<rect x="1443.12" y="863.40" width="15.35" height="53.30" fill="#2ca02c" stroke="#000" stroke-width="1.9" />
<rect x="1079.40" y="605.50" width="397.30" height="311.20" fill="none" stroke="#000" stroke-width="1.3" />
<line x1="1124.60" y1="916.70" x2="1124.60" y2="926.40" stroke="#000" stroke-width="1.3" />
<line x1="1201.35" y1="916.70" x2="1201.35" y2="926.40" stroke="#000" stroke-width="1.3" />
<line x1="1278.10" y1="916.70" x2="1278.10" y2="926.40" stroke="#000" stroke-width="1.3" />
<line x1="1354.85" y1="916.70" x2="1354.85" y2="926.40" stroke="#000" stroke-width="1.3" />
<line x1="1431.60" y1="916.70" x2="1431.60" y2="926.40" stroke="#000" stroke-width="1.3" />
<line x1="1069.70" y1="916.70" x2="1079.40" y2="916.70" stroke="#000" stroke-width="1.3" />
<text x="1062.20" y="929.10" font-size="28.40" text-anchor="end" fill="#000" font-weight="normal"  style="font-kerning:none">10<tspan font-size="70%" dy="-0.586em">2</tspan><tspan font-size="1%" dy="41.0em">&#8203;</tspan></text>
<line x1="1076.40" y1="869.86" x2="1079.40" y2="869.86" stroke="#000" stroke-width="1.1" />
<line x1="1076.40" y1="842.46" x2="1079.40" y2="842.46" stroke="#000" stroke-width="1.1" />
<line x1="1076.40" y1="823.02" x2="1079.40" y2="823.02" stroke="#000" stroke-width="1.1" />
<line x1="1076.40" y1="807.94" x2="1079.40" y2="807.94" stroke="#000" stroke-width="1.1" />
<line x1="1076.40" y1="795.62" x2="1079.40" y2="795.62" stroke="#000" stroke-width="1.1" />
<line x1="1076.40" y1="785.20" x2="1079.40" y2="785.20" stroke="#000" stroke-width="1.1" />
<line x1="1076.40" y1="776.18" x2="1079.40" y2="776.18" stroke="#000" stroke-width="1.1" />
<line x1="1076.40" y1="768.22" x2="1079.40" y2="768.22" stroke="#000" stroke-width="1.1" />
<line x1="1069.70" y1="761.10" x2="1079.40" y2="761.10" stroke="#000" stroke-width="1.3" />
<text x="1062.20" y="773.50" font-size="28.40" text-anchor="end" fill="#000" font-weight="normal"  style="font-kerning:none">10<tspan font-size="70%" dy="-0.586em">3</tspan><tspan font-size="1%" dy="41.0em">&#8203;</tspan></text>
<line x1="1076.40" y1="714.26" x2="1079.40" y2="714.26" stroke="#000" stroke-width="1.1" />
<line x1="1076.40" y1="686.86" x2="1079.40" y2="686.86" stroke="#000" stroke-width="1.1" />
<line x1="1076.40" y1="667.42" x2="1079.40" y2="667.42" stroke="#000" stroke-width="1.1" />
<line x1="1076.40" y1="652.34" x2="1079.40" y2="652.34" stroke="#000" stroke-width="1.1" />
<line x1="1076.40" y1="640.02" x2="1079.40" y2="640.02" stroke="#000" stroke-width="1.1" />
<line x1="1076.40" y1="629.60" x2="1079.40" y2="629.60" stroke="#000" stroke-width="1.1" />
<line x1="1076.40" y1="620.58" x2="1079.40" y2="620.58" stroke="#000" stroke-width="1.1" />
<line x1="1076.40" y1="612.62" x2="1079.40" y2="612.62" stroke="#000" stroke-width="1.1" />
<line x1="1069.70" y1="605.50" x2="1079.40" y2="605.50" stroke="#000" stroke-width="1.3" />
<text x="1062.20" y="617.90" font-size="28.40" text-anchor="end" fill="#000" font-weight="normal"  style="font-kerning:none">10<tspan font-size="70%" dy="-0.586em">4</tspan><tspan font-size="1%" dy="41.0em">&#8203;</tspan></text>
<g transform="translate(999.5,761.1) rotate(-90)">
<text x="0.00" y="-1.50" font-size="28.40" text-anchor="middle" fill="#000" font-weight="normal"  style="font-kerning:none">PRE <tspan font-style="italic">χ</tspan><tspan font-size="70%" dy="-0.52em">2</tspan><tspan font-size="70%" dy="0.9em" dx="-0.62em" font-style="italic">r</tspan></text>
</g>
<text x="960.00" y="610.00" font-size="43.00" text-anchor="start" fill="#000" font-weight="bold" font-family="Liberation Sans, Arial, sans-serif">e.</text>
<g transform="translate(1121.60,950.50) rotate(-30)">
<text x="0.00" y="0.00" font-size="28.40" text-anchor="end" fill="#000" font-weight="normal" >αSyn</text>
</g>
<g transform="translate(1195.75,950.50) rotate(-30)">
<text x="0.00" y="0.00" font-size="28.40" text-anchor="end" fill="#000" font-weight="normal"  style="font-kerning:none">FUS<tspan font-size="70%" dy="0.214em" font-style="italic">LCD</tspan><tspan font-size="1%" dy="-15.0em">&#8203;</tspan></text>
</g>
<g transform="translate(1272.50,950.50) rotate(-30)">
<text x="0.00" y="0.00" font-size="28.40" text-anchor="end" fill="#000" font-weight="normal"  style="font-kerning:none">hnRNPA2<tspan font-size="70%" dy="0.214em" font-style="italic">LCD</tspan><tspan font-size="1%" dy="-15.0em">&#8203;</tspan></text>
</g>
<g transform="translate(1351.85,950.50) rotate(-30)">
<text x="0.00" y="0.00" font-size="28.40" text-anchor="end" fill="#000" font-weight="normal" >OPN</text>
</g>
<g transform="translate(1428.60,950.50) rotate(-30)">
<text x="0.00" y="0.00" font-size="28.40" text-anchor="end" fill="#000" font-weight="normal" >hTau40</text>
</g>
<rect x="587.90" y="1060.60" width="804.50" height="51.20" fill="#fff" stroke="#ccc" stroke-width="1.6" rx="5.5"/>
<rect x="598.70" y="1075.40" width="57.60" height="19.60" fill="#1f77b4" stroke="#000" stroke-width="1.4" />
<text x="679.50" y="1095.30" font-size="28.40" text-anchor="start" fill="#000" font-weight="normal" >Unmodified</text>
<rect x="898.20" y="1075.40" width="57.60" height="19.60" fill="#ff7f0e" stroke="#000" stroke-width="1.4" />
<text x="976.80" y="1095.30" font-size="28.40" text-anchor="start" fill="#000" font-weight="normal"  style="font-kerning:none"><tspan font-style="italic">λ</tspan><tspan font-size="70%" dy="0.214em" font-style="italic">PW</tspan><tspan font-size="1%" dy="-15.0em">&#8203;</tspan>=1.10</text>
<rect x="1170.70" y="1075.40" width="57.60" height="19.60" fill="#2ca02c" stroke="#000" stroke-width="1.4" />
<text x="1250.60" y="1095.30" font-size="28.40" text-anchor="start" fill="#000" font-weight="normal"  style="font-kerning:none"><tspan font-style="italic">λ</tspan><tspan font-size="70%" dy="0.214em" font-style="italic">PP</tspan><tspan font-size="1%" dy="-15.0em">&#8203;</tspan>=0.88</text>
<rect x="1520.50" y="39.80" width="479.50" height="875.00" fill="none" stroke="#000" stroke-width="2.1" />
<text x="1554.00" y="104.30" font-size="43.00" text-anchor="start" fill="#000" font-weight="bold" font-family="Liberation Sans, Arial, sans-serif">f.</text>
<radialGradient id="gb0" cx="0.40" cy="0.38" r="0.56" fx="0.36" fy="0.32"><stop offset="0" stop-color="#608fc6"/><stop offset="0.45" stop-color="#517fc1"/><stop offset="0.66" stop-color="#426ba8"/><stop offset="0.84" stop-color="#2a4b7f"/><stop offset="1" stop-color="#152e5c"/></radialGradient>
<radialGradient id="gb1" cx="0.40" cy="0.38" r="0.56" fx="0.36" fy="0.32"><stop offset="0" stop-color="#6799d4"/><stop offset="0.45" stop-color="#5688cf"/><stop offset="0.66" stop-color="#4673b3"/><stop offset="0.84" stop-color="#2d5088"/><stop offset="1" stop-color="#173262"/></radialGradient>
<radialGradient id="gb2" cx="0.40" cy="0.38" r="0.56" fx="0.36" fy="0.32"><stop offset="0" stop-color="#6ea3e2"/><stop offset="0.45" stop-color="#5c91dc"/><stop offset="0.66" stop-color="#4b7abf"/><stop offset="0.84" stop-color="#305591"/><stop offset="1" stop-color="#183569"/></radialGradient>
<radialGradient id="gb3" cx="0.40" cy="0.38" r="0.56" fx="0.36" fy="0.32"><stop offset="0" stop-color="#75adf0"/><stop offset="0.45" stop-color="#629aea"/><stop offset="0.66" stop-color="#5082cb"/><stop offset="0.84" stop-color="#335b9a"/><stop offset="1" stop-color="#1a386f"/></radialGradient>
<radialGradient id="gb4" cx="0.40" cy="0.38" r="0.56" fx="0.36" fy="0.32"><stop offset="0" stop-color="#7cb8ff"/><stop offset="0.45" stop-color="#68a4f8"/><stop offset="0.66" stop-color="#558ad7"/><stop offset="0.84" stop-color="#3660a3"/><stop offset="1" stop-color="#1c3c76"/></radialGradient>
<radialGradient id="go0" cx="0.40" cy="0.38" r="0.56" fx="0.36" fy="0.32"><stop offset="0" stop-color="#c69a12"/><stop offset="0.45" stop-color="#c68703"/><stop offset="0.66" stop-color="#ac7102"/><stop offset="0.84" stop-color="#814c01"/><stop offset="1" stop-color="#5c2d00"/></radialGradient>
<radialGradient id="go1" cx="0.40" cy="0.38" r="0.56" fx="0.36" fy="0.32"><stop offset="0" stop-color="#d4a514"/><stop offset="0.45" stop-color="#d49103"/><stop offset="0.66" stop-color="#b87902"/><stop offset="0.84" stop-color="#8a5201"/><stop offset="1" stop-color="#623000"/></radialGradient>
<radialGradient id="go2" cx="0.40" cy="0.38" r="0.56" fx="0.36" fy="0.32"><stop offset="0" stop-color="#e2b015"/><stop offset="0.45" stop-color="#e29a03"/><stop offset="0.66" stop-color="#c48102"/><stop offset="0.84" stop-color="#935701"/><stop offset="1" stop-color="#693300"/></radialGradient>
<radialGradient id="go3" cx="0.40" cy="0.38" r="0.56" fx="0.36" fy="0.32"><stop offset="0" stop-color="#f0bb16"/><stop offset="0.45" stop-color="#f0a403"/><stop offset="0.66" stop-color="#d08902"/><stop offset="0.84" stop-color="#9c5d01"/><stop offset="1" stop-color="#6f3600"/></radialGradient>
<radialGradient id="go4" cx="0.40" cy="0.38" r="0.56" fx="0.36" fy="0.32"><stop offset="0" stop-color="#ffc618"/><stop offset="0.45" stop-color="#ffae04"/><stop offset="0.66" stop-color="#dc9103"/><stop offset="0.84" stop-color="#a56201"/><stop offset="1" stop-color="#763a00"/></radialGradient>
<radialGradient id="gg0" cx="0.40" cy="0.38" r="0.56" fx="0.36" fy="0.32"><stop offset="0" stop-color="#3eb171"/><stop offset="0.45" stop-color="#2b975d"/><stop offset="0.66" stop-color="#22804e"/><stop offset="0.84" stop-color="#145b36"/><stop offset="1" stop-color="#073b20"/></radialGradient>
<radialGradient id="gg1" cx="0.40" cy="0.38" r="0.56" fx="0.36" fy="0.32"><stop offset="0" stop-color="#42be79"/><stop offset="0.45" stop-color="#2ea164"/><stop offset="0.66" stop-color="#258953"/><stop offset="0.84" stop-color="#156139"/><stop offset="1" stop-color="#083f23"/></radialGradient>
<radialGradient id="gg2" cx="0.40" cy="0.38" r="0.56" fx="0.36" fy="0.32"><stop offset="0" stop-color="#47ca81"/><stop offset="0.45" stop-color="#31ac6a"/><stop offset="0.66" stop-color="#279259"/><stop offset="0.84" stop-color="#17683d"/><stop offset="1" stop-color="#084325"/></radialGradient>
<radialGradient id="gg3" cx="0.40" cy="0.38" r="0.56" fx="0.36" fy="0.32"><stop offset="0" stop-color="#4bd789"/><stop offset="0.45" stop-color="#34b771"/><stop offset="0.66" stop-color="#2a9b5e"/><stop offset="0.84" stop-color="#186e41"/><stop offset="1" stop-color="#094727"/></radialGradient>
<radialGradient id="gg4" cx="0.40" cy="0.38" r="0.56" fx="0.36" fy="0.32"><stop offset="0" stop-color="#50e492"/><stop offset="0.45" stop-color="#38c278"/><stop offset="0.66" stop-color="#2ca464"/><stop offset="0.84" stop-color="#1a7545"/><stop offset="1" stop-color="#0a4c2a"/></radialGradient>
<circle cx="1662.5" cy="148.3" r="4.9" fill="url(#gb0)"/>
<circle cx="1788.7" cy="182.0" r="4.9" fill="url(#gb0)"/>
<circle cx="1764.4" cy="210.9" r="4.9" fill="url(#gb0)"/>
<circle cx="1737.6" cy="163.7" r="4.9" fill="url(#gb0)"/>
<circle cx="1778.3" cy="197.0" r="4.9" fill="url(#gb0)"/>
<circle cx="1699.8" cy="133.0" r="4.9" fill="url(#gb0)"/>
<circle cx="1649.5" cy="175.0" r="4.9" fill="url(#gb0)"/>
<circle cx="1728.9" cy="196.2" r="4.9" fill="url(#gb0)"/>
<circle cx="1791.7" cy="220.5" r="4.9" fill="url(#gb0)"/>
<circle cx="1759.5" cy="172.5" r="4.9" fill="url(#gb0)"/>
<circle cx="1840.0" cy="156.2" r="4.9" fill="url(#gb0)"/>
<circle cx="1740.4" cy="150.7" r="4.9" fill="url(#gb0)"/>
<circle cx="1822.9" cy="163.9" r="4.9" fill="url(#gb0)"/>
<circle cx="1766.8" cy="153.4" r="4.9" fill="url(#gb0)"/>
<circle cx="1789.9" cy="133.3" r="4.9" fill="url(#gb0)"/>
<circle cx="1764.0" cy="248.2" r="4.9" fill="url(#gb0)"/>
<circle cx="1764.2" cy="229.8" r="4.9" fill="url(#gb0)"/>
<circle cx="1685.2" cy="135.7" r="4.9" fill="url(#gb0)"/>
<circle cx="1751.4" cy="205.3" r="4.9" fill="url(#gb0)"/>
<circle cx="1785.6" cy="214.5" r="4.9" fill="url(#gb0)"/>
<circle cx="1723.7" cy="211.0" r="4.9" fill="url(#gb0)"/>
<circle cx="1774.8" cy="239.6" r="4.9" fill="url(#gb0)"/>
<circle cx="1732.6" cy="159.0" r="4.9" fill="url(#gb0)"/>
<circle cx="1798.9" cy="132.7" r="4.9" fill="url(#gb0)"/>
<circle cx="1744.8" cy="146.7" r="4.9" fill="url(#gb0)"/>
<circle cx="1693.3" cy="185.3" r="4.9" fill="url(#gb0)"/>
<circle cx="1798.4" cy="138.3" r="4.9" fill="url(#gb0)"/>
<circle cx="1845.8" cy="147.5" r="4.9" fill="url(#gb0)"/>
<circle cx="1775.0" cy="137.2" r="4.9" fill="url(#gb0)"/>
<circle cx="1799.1" cy="126.0" r="4.9" fill="url(#gb0)"/>
<circle cx="1751.2" cy="159.8" r="4.9" fill="url(#gb0)"/>
<circle cx="1769.5" cy="203.2" r="4.9" fill="url(#gb0)"/>
<circle cx="1798.1" cy="204.6" r="4.9" fill="url(#gb0)"/>
<circle cx="1706.8" cy="134.2" r="4.9" fill="url(#gb0)"/>
<circle cx="1705.0" cy="190.3" r="4.9" fill="url(#gb0)"/>
<circle cx="1717.0" cy="142.9" r="4.9" fill="url(#gb0)"/>
<circle cx="1669.8" cy="184.7" r="4.9" fill="url(#gb0)"/>
<circle cx="1793.6" cy="165.5" r="4.9" fill="url(#gb0)"/>
<circle cx="1678.5" cy="193.7" r="4.9" fill="url(#gb0)"/>
<circle cx="1682.0" cy="175.4" r="4.9" fill="url(#gb0)"/>
<circle cx="1690.9" cy="198.2" r="4.9" fill="url(#gb0)"/>
<circle cx="1775.7" cy="226.3" r="4.9" fill="url(#gb0)"/>
<circle cx="1832.5" cy="151.7" r="4.9" fill="url(#gb0)"/>
<circle cx="1733.2" cy="214.3" r="4.9" fill="url(#gb0)"/>
<circle cx="1789.8" cy="227.1" r="4.9" fill="url(#gb0)"/>
<circle cx="1770.5" cy="237.6" r="4.9" fill="url(#gb0)"/>
<circle cx="1760.6" cy="166.3" r="4.9" fill="url(#gb0)"/>
<circle cx="1781.4" cy="170.2" r="4.9" fill="url(#gb0)"/>
<circle cx="1723.4" cy="155.1" r="4.9" fill="url(#gb0)"/>
<circle cx="1788.9" cy="159.3" r="4.9" fill="url(#gb0)"/>
<circle cx="1697.8" cy="122.4" r="4.9" fill="url(#gb0)"/>
<circle cx="1779.4" cy="121.2" r="4.9" fill="url(#gb0)"/>
<circle cx="1774.4" cy="200.3" r="4.9" fill="url(#gb0)"/>
<circle cx="1749.0" cy="179.7" r="4.9" fill="url(#gb0)"/>
<circle cx="1773.8" cy="174.5" r="4.9" fill="url(#gb0)"/>
<circle cx="1704.3" cy="153.9" r="4.9" fill="url(#gb0)"/>
<circle cx="1766.1" cy="133.4" r="4.9" fill="url(#gb0)"/>
<circle cx="1745.2" cy="230.2" r="4.9" fill="url(#gb0)"/>
<circle cx="1784.7" cy="206.5" r="4.9" fill="url(#gb0)"/>
<circle cx="1800.7" cy="198.0" r="4.9" fill="url(#gb0)"/>
<circle cx="1748.5" cy="218.0" r="4.9" fill="url(#gb0)"/>
<circle cx="1662.5" cy="135.8" r="4.9" fill="url(#gb0)"/>
<circle cx="1672.2" cy="162.5" r="4.9" fill="url(#gb0)"/>
<circle cx="1811.8" cy="170.1" r="4.9" fill="url(#gb0)"/>
<circle cx="1727.4" cy="200.9" r="4.9" fill="url(#gb0)"/>
<circle cx="1796.3" cy="179.5" r="4.9" fill="url(#gb0)"/>
<circle cx="1837.7" cy="138.2" r="4.9" fill="url(#gb0)"/>
<circle cx="1728.4" cy="221.9" r="4.9" fill="url(#gb0)"/>
<circle cx="1783.4" cy="199.8" r="4.9" fill="url(#gb0)"/>
<circle cx="1700.2" cy="143.1" r="4.9" fill="url(#gb0)"/>
<circle cx="1772.3" cy="169.6" r="4.9" fill="url(#gb0)"/>
<circle cx="1810.2" cy="137.9" r="4.9" fill="url(#gb0)"/>
<circle cx="1827.1" cy="159.9" r="4.9" fill="url(#gb0)"/>
<circle cx="1728.8" cy="186.7" r="4.9" fill="url(#gb0)"/>
<circle cx="1726.0" cy="166.9" r="4.9" fill="url(#gb0)"/>
<circle cx="1778.5" cy="204.0" r="4.9" fill="url(#gb0)"/>
<circle cx="1705.4" cy="126.0" r="4.9" fill="url(#gb0)"/>
<circle cx="1802.5" cy="168.7" r="4.9" fill="url(#gb0)"/>
<circle cx="1785.6" cy="194.1" r="4.9" fill="url(#gb0)"/>
<circle cx="1750.2" cy="184.2" r="4.9" fill="url(#gb0)"/>
<circle cx="1680.4" cy="146.8" r="4.9" fill="url(#gb0)"/>
<circle cx="1812.5" cy="143.7" r="4.9" fill="url(#gb0)"/>
<circle cx="1809.3" cy="189.3" r="4.9" fill="url(#gb0)"/>
<circle cx="1765.8" cy="162.5" r="4.9" fill="url(#gb0)"/>
<circle cx="1802.8" cy="149.8" r="4.9" fill="url(#gb0)"/>
<circle cx="1670.5" cy="177.7" r="4.9" fill="url(#gb0)"/>
<circle cx="1807.9" cy="161.1" r="4.9" fill="url(#gb0)"/>
<circle cx="1765.0" cy="242.9" r="4.9" fill="url(#gb1)"/>
<circle cx="1753.1" cy="194.4" r="4.9" fill="url(#gb1)"/>
<circle cx="1675.7" cy="147.9" r="4.9" fill="url(#gb1)"/>
<circle cx="1687.0" cy="165.9" r="4.9" fill="url(#gb1)"/>
<circle cx="1762.0" cy="216.7" r="4.9" fill="url(#gb1)"/>
<circle cx="1736.0" cy="140.0" r="4.9" fill="url(#gb1)"/>
<circle cx="1711.3" cy="153.7" r="4.9" fill="url(#gb1)"/>
<circle cx="1746.1" cy="207.2" r="4.9" fill="url(#gb1)"/>
<circle cx="1765.4" cy="148.1" r="4.9" fill="url(#gb1)"/>
<circle cx="1797.8" cy="154.7" r="4.9" fill="url(#gb1)"/>
<circle cx="1767.1" cy="254.0" r="4.9" fill="url(#gb1)"/>
<circle cx="1783.2" cy="157.3" r="4.9" fill="url(#gb1)"/>
<circle cx="1780.8" cy="211.6" r="4.9" fill="url(#gb1)"/>
<circle cx="1752.9" cy="215.6" r="4.9" fill="url(#gb1)"/>
<circle cx="1725.0" cy="177.3" r="4.9" fill="url(#gb1)"/>
<circle cx="1808.2" cy="166.6" r="4.9" fill="url(#gb1)"/>
<circle cx="1656.2" cy="156.3" r="4.9" fill="url(#gb1)"/>
<circle cx="1790.5" cy="148.1" r="4.9" fill="url(#gb1)"/>
<circle cx="1731.4" cy="225.9" r="4.9" fill="url(#gb1)"/>
<circle cx="1785.3" cy="122.0" r="4.9" fill="url(#gb1)"/>
<circle cx="1712.1" cy="116.1" r="4.9" fill="url(#gb1)"/>
<circle cx="1765.4" cy="201.0" r="4.9" fill="url(#gb1)"/>
<circle cx="1813.2" cy="152.8" r="4.9" fill="url(#gb1)"/>
<circle cx="1691.7" cy="134.7" r="4.9" fill="url(#gb1)"/>
<circle cx="1700.3" cy="127.3" r="4.9" fill="url(#gb1)"/>
<circle cx="1771.3" cy="159.5" r="4.9" fill="url(#gb1)"/>
<circle cx="1774.7" cy="130.9" r="4.9" fill="url(#gb1)"/>
<circle cx="1708.0" cy="148.3" r="4.9" fill="url(#gb1)"/>
<circle cx="1742.2" cy="173.8" r="4.9" fill="url(#gb1)"/>
<circle cx="1704.3" cy="145.5" r="4.9" fill="url(#gb1)"/>
<circle cx="1794.3" cy="135.7" r="4.9" fill="url(#gb1)"/>
<circle cx="1697.2" cy="181.3" r="4.9" fill="url(#gb1)"/>
<circle cx="1745.1" cy="196.0" r="4.9" fill="url(#gb1)"/>
<circle cx="1702.0" cy="199.8" r="4.9" fill="url(#gb1)"/>
<circle cx="1807.3" cy="180.9" r="4.9" fill="url(#gb1)"/>
<circle cx="1755.3" cy="209.9" r="4.9" fill="url(#gb1)"/>
<circle cx="1690.5" cy="206.1" r="4.9" fill="url(#gb1)"/>
<circle cx="1824.3" cy="150.4" r="4.9" fill="url(#gb1)"/>
<circle cx="1722.1" cy="202.2" r="4.9" fill="url(#gb1)"/>
<circle cx="1809.5" cy="156.1" r="4.9" fill="url(#gb1)"/>
<circle cx="1780.3" cy="132.1" r="4.9" fill="url(#gb1)"/>
<circle cx="1710.2" cy="167.4" r="4.9" fill="url(#gb1)"/>
<circle cx="1702.3" cy="173.3" r="4.9" fill="url(#gb1)"/>
<circle cx="1675.6" cy="141.0" r="4.9" fill="url(#gb1)"/>
<circle cx="1715.6" cy="191.6" r="4.9" fill="url(#gb1)"/>
<circle cx="1695.1" cy="175.0" r="4.9" fill="url(#gb1)"/>
<circle cx="1708.5" cy="163.0" r="4.9" fill="url(#gb1)"/>
<circle cx="1744.0" cy="215.1" r="4.9" fill="url(#gb1)"/>
<circle cx="1747.6" cy="155.6" r="4.9" fill="url(#gb1)"/>
<circle cx="1682.5" cy="197.0" r="4.9" fill="url(#gb1)"/>
<circle cx="1802.4" cy="155.8" r="4.9" fill="url(#gb1)"/>
<circle cx="1818.0" cy="175.0" r="4.9" fill="url(#gb1)"/>
<circle cx="1804.1" cy="128.2" r="4.9" fill="url(#gb1)"/>
<circle cx="1711.6" cy="200.9" r="4.9" fill="url(#gb1)"/>
<circle cx="1749.5" cy="210.9" r="4.9" fill="url(#gb1)"/>
<circle cx="1751.3" cy="151.5" r="4.9" fill="url(#gb1)"/>
<circle cx="1777.7" cy="230.9" r="4.9" fill="url(#gb1)"/>
<circle cx="1736.9" cy="230.0" r="4.9" fill="url(#gb1)"/>
<circle cx="1691.9" cy="156.2" r="4.9" fill="url(#gb1)"/>
<circle cx="1718.7" cy="168.0" r="4.9" fill="url(#gb1)"/>
<circle cx="1739.9" cy="211.4" r="4.9" fill="url(#gb1)"/>
<circle cx="1756.1" cy="225.6" r="4.9" fill="url(#gb1)"/>
<circle cx="1784.4" cy="116.3" r="4.9" fill="url(#gb1)"/>
<circle cx="1757.0" cy="197.7" r="4.9" fill="url(#gb1)"/>
<circle cx="1688.7" cy="182.8" r="4.9" fill="url(#gb1)"/>
<circle cx="1814.9" cy="163.9" r="4.9" fill="url(#gb1)"/>
<circle cx="1819.0" cy="151.9" r="4.9" fill="url(#gb1)"/>
<circle cx="1736.1" cy="175.7" r="4.9" fill="url(#gb1)"/>
<circle cx="1756.5" cy="220.7" r="4.9" fill="url(#gb1)"/>
<circle cx="1762.8" cy="196.0" r="4.9" fill="url(#gb1)"/>
<circle cx="1748.5" cy="136.2" r="4.9" fill="url(#gb1)"/>
<circle cx="1807.4" cy="145.1" r="4.9" fill="url(#gb1)"/>
<circle cx="1720.4" cy="162.6" r="4.9" fill="url(#gb1)"/>
<circle cx="1690.8" cy="190.7" r="4.9" fill="url(#gb1)"/>
<circle cx="1759.4" cy="212.5" r="4.9" fill="url(#gb1)"/>
<circle cx="1677.4" cy="174.5" r="4.9" fill="url(#gb1)"/>
<circle cx="1784.3" cy="225.9" r="4.9" fill="url(#gb1)"/>
<circle cx="1644.6" cy="180.7" r="4.9" fill="url(#gb1)"/>
<circle cx="1704.4" cy="185.0" r="4.9" fill="url(#gb1)"/>
<circle cx="1720.4" cy="223.2" r="4.9" fill="url(#gb1)"/>
<circle cx="1790.4" cy="213.8" r="4.9" fill="url(#gb1)"/>
<circle cx="1769.9" cy="216.2" r="4.9" fill="url(#gb1)"/>
<circle cx="1663.9" cy="123.4" r="4.9" fill="url(#gb1)"/>
<circle cx="1772.1" cy="222.8" r="4.9" fill="url(#gb1)"/>
<circle cx="1666.1" cy="179.5" r="4.9" fill="url(#gb1)"/>
<circle cx="1650.6" cy="169.0" r="4.9" fill="url(#gb1)"/>
<circle cx="1715.8" cy="158.2" r="4.9" fill="url(#gb2)"/>
<circle cx="1695.7" cy="190.5" r="4.9" fill="url(#gb2)"/>
<circle cx="1728.4" cy="212.0" r="4.9" fill="url(#gb2)"/>
<circle cx="1679.4" cy="136.1" r="4.9" fill="url(#gb2)"/>
<circle cx="1698.0" cy="160.3" r="4.9" fill="url(#gb2)"/>
<circle cx="1686.7" cy="188.0" r="4.9" fill="url(#gb2)"/>
<circle cx="1817.4" cy="158.0" r="4.9" fill="url(#gb2)"/>
<circle cx="1664.1" cy="143.1" r="4.9" fill="url(#gb2)"/>
<circle cx="1687.0" cy="193.5" r="4.9" fill="url(#gb2)"/>
<circle cx="1790.0" cy="189.6" r="4.9" fill="url(#gb2)"/>
<circle cx="1789.2" cy="118.1" r="4.9" fill="url(#gb2)"/>
<circle cx="1783.3" cy="150.7" r="4.9" fill="url(#gb2)"/>
<circle cx="1669.7" cy="156.3" r="4.9" fill="url(#gb2)"/>
<circle cx="1749.7" cy="227.1" r="4.9" fill="url(#gb2)"/>
<circle cx="1774.8" cy="208.4" r="4.9" fill="url(#gb2)"/>
<circle cx="1644.9" cy="174.2" r="4.9" fill="url(#gb2)"/>
<circle cx="1767.5" cy="139.5" r="4.9" fill="url(#gb2)"/>
<circle cx="1741.1" cy="191.0" r="4.9" fill="url(#gb2)"/>
<circle cx="1724.6" cy="230.1" r="4.9" fill="url(#gb2)"/>
<circle cx="1767.7" cy="233.5" r="4.9" fill="url(#gb2)"/>
<circle cx="1715.1" cy="164.5" r="4.9" fill="url(#gb2)"/>
<circle cx="1719.9" cy="197.6" r="4.9" fill="url(#gb2)"/>
<circle cx="1742.7" cy="183.2" r="4.9" fill="url(#gb2)"/>
<circle cx="1805.0" cy="138.7" r="4.9" fill="url(#gb2)"/>
<circle cx="1727.4" cy="161.1" r="4.9" fill="url(#gb2)"/>
<circle cx="1688.2" cy="130.5" r="4.9" fill="url(#gb2)"/>
<circle cx="1808.5" cy="149.8" r="4.9" fill="url(#gb2)"/>
<circle cx="1759.0" cy="206.5" r="4.9" fill="url(#gb2)"/>
<circle cx="1747.7" cy="200.8" r="4.9" fill="url(#gb2)"/>
<circle cx="1767.2" cy="222.5" r="4.9" fill="url(#gb2)"/>
<circle cx="1745.4" cy="187.5" r="4.9" fill="url(#gb2)"/>
<circle cx="1716.3" cy="177.8" r="4.9" fill="url(#gb2)"/>
<circle cx="1653.7" cy="163.7" r="4.9" fill="url(#gb2)"/>
<circle cx="1779.3" cy="153.9" r="4.9" fill="url(#gb2)"/>
<circle cx="1721.6" cy="138.5" r="4.9" fill="url(#gb2)"/>
<circle cx="1658.0" cy="142.8" r="4.9" fill="url(#gb2)"/>
<circle cx="1842.7" cy="143.3" r="4.9" fill="url(#gb2)"/>
<circle cx="1795.4" cy="129.0" r="4.9" fill="url(#gb2)"/>
<circle cx="1784.1" cy="180.4" r="4.9" fill="url(#gb2)"/>
<circle cx="1790.3" cy="206.5" r="4.9" fill="url(#gb2)"/>
<circle cx="1700.0" cy="186.8" r="4.9" fill="url(#gb2)"/>
<circle cx="1843.3" cy="159.4" r="4.9" fill="url(#gb2)"/>
<circle cx="1757.0" cy="232.4" r="4.9" fill="url(#gb2)"/>
<circle cx="1784.6" cy="186.5" r="4.9" fill="url(#gb2)"/>
<circle cx="1711.6" cy="174.1" r="4.9" fill="url(#gb2)"/>
<circle cx="1825.3" cy="175.7" r="4.9" fill="url(#gb2)"/>
<circle cx="1732.5" cy="164.3" r="4.9" fill="url(#gb2)"/>
<circle cx="1682.7" cy="131.8" r="4.9" fill="url(#gb2)"/>
<circle cx="1709.0" cy="140.3" r="4.9" fill="url(#gb2)"/>
<circle cx="1743.4" cy="138.0" r="4.9" fill="url(#gb2)"/>
<circle cx="1717.4" cy="153.3" r="4.9" fill="url(#gb2)"/>
<circle cx="1792.6" cy="185.5" r="4.9" fill="url(#gb2)"/>
<circle cx="1783.5" cy="164.1" r="4.9" fill="url(#gb2)"/>
<circle cx="1791.7" cy="177.5" r="4.9" fill="url(#gb2)"/>
<circle cx="1703.4" cy="160.3" r="4.9" fill="url(#gb2)"/>
<circle cx="1698.0" cy="148.3" r="4.9" fill="url(#gb2)"/>
<circle cx="1771.5" cy="243.6" r="4.9" fill="url(#gb2)"/>
<circle cx="1769.9" cy="227.8" r="4.9" fill="url(#gb2)"/>
<circle cx="1738.8" cy="144.7" r="4.9" fill="url(#gb2)"/>
<circle cx="1735.8" cy="152.1" r="4.9" fill="url(#gb2)"/>
<circle cx="1762.0" cy="178.4" r="4.9" fill="url(#gb2)"/>
<circle cx="1700.5" cy="111.6" r="4.9" fill="url(#gb2)"/>
<circle cx="1710.3" cy="126.1" r="4.9" fill="url(#gb2)"/>
<circle cx="1687.0" cy="175.0" r="4.9" fill="url(#gb2)"/>
<circle cx="1778.6" cy="175.3" r="4.9" fill="url(#gb2)"/>
<circle cx="1774.2" cy="234.8" r="4.9" fill="url(#gb2)"/>
<circle cx="1681.8" cy="169.8" r="4.9" fill="url(#gb2)"/>
<circle cx="1722.0" cy="192.0" r="4.9" fill="url(#gb2)"/>
<circle cx="1715.1" cy="197.0" r="4.9" fill="url(#gb2)"/>
<circle cx="1672.1" cy="196.1" r="4.9" fill="url(#gb2)"/>
<circle cx="1777.5" cy="125.7" r="4.9" fill="url(#gb2)"/>
<circle cx="1829.0" cy="155.5" r="4.9" fill="url(#gb2)"/>
<circle cx="1831.3" cy="138.6" r="4.9" fill="url(#gb3)"/>
<circle cx="1794.5" cy="118.7" r="4.9" fill="url(#gb3)"/>
<circle cx="1678.0" cy="164.4" r="4.9" fill="url(#gb3)"/>
<circle cx="1730.6" cy="206.7" r="4.9" fill="url(#gb3)"/>
<circle cx="1792.2" cy="140.3" r="4.9" fill="url(#gb3)"/>
<circle cx="1752.6" cy="199.3" r="4.9" fill="url(#gb3)"/>
<circle cx="1757.0" cy="183.3" r="4.9" fill="url(#gb3)"/>
<circle cx="1717.2" cy="117.6" r="4.9" fill="url(#gb3)"/>
<circle cx="1833.9" cy="158.1" r="4.9" fill="url(#gb3)"/>
<circle cx="1743.7" cy="178.3" r="4.9" fill="url(#gb3)"/>
<circle cx="1738.7" cy="187.0" r="4.9" fill="url(#gb3)"/>
<circle cx="1814.2" cy="135.0" r="4.9" fill="url(#gb3)"/>
<circle cx="1676.0" cy="158.8" r="4.9" fill="url(#gb3)"/>
<circle cx="1761.3" cy="151.6" r="4.9" fill="url(#gb3)"/>
<circle cx="1676.6" cy="153.1" r="4.9" fill="url(#gb3)"/>
<circle cx="1733.7" cy="185.7" r="4.9" fill="url(#gb3)"/>
<circle cx="1681.3" cy="153.6" r="4.9" fill="url(#gb3)"/>
<circle cx="1718.9" cy="173.0" r="4.9" fill="url(#gb3)"/>
<circle cx="1728.6" cy="154.3" r="4.9" fill="url(#gb3)"/>
<circle cx="1727.0" cy="216.6" r="4.9" fill="url(#gb3)"/>
<circle cx="1817.9" cy="131.5" r="4.9" fill="url(#gb3)"/>
<circle cx="1713.8" cy="121.5" r="4.9" fill="url(#gb3)"/>
<circle cx="1680.9" cy="159.1" r="4.9" fill="url(#gb3)"/>
<circle cx="1737.0" cy="181.3" r="4.9" fill="url(#gb3)"/>
<circle cx="1696.8" cy="213.0" r="4.9" fill="url(#gb3)"/>
<circle cx="1790.8" cy="171.7" r="4.9" fill="url(#gb3)"/>
<circle cx="1723.5" cy="187.0" r="4.9" fill="url(#gb3)"/>
<circle cx="1698.4" cy="202.8" r="4.9" fill="url(#gb3)"/>
<circle cx="1771.1" cy="147.5" r="4.9" fill="url(#gb3)"/>
<circle cx="1671.7" cy="172.9" r="4.9" fill="url(#gb3)"/>
<circle cx="1736.0" cy="169.7" r="4.9" fill="url(#gb3)"/>
<circle cx="1844.7" cy="152.5" r="4.9" fill="url(#gb3)"/>
<circle cx="1775.0" cy="213.6" r="4.9" fill="url(#gb3)"/>
<circle cx="1724.6" cy="206.3" r="4.9" fill="url(#gb3)"/>
<circle cx="1768.9" cy="249.5" r="4.9" fill="url(#gb3)"/>
<circle cx="1745.9" cy="161.2" r="4.9" fill="url(#gb3)"/>
<circle cx="1748.7" cy="173.3" r="4.9" fill="url(#gb3)"/>
<circle cx="1735.5" cy="209.8" r="4.9" fill="url(#gb3)"/>
<circle cx="1786.5" cy="219.6" r="4.9" fill="url(#gb3)"/>
<circle cx="1758.8" cy="156.2" r="4.9" fill="url(#gb3)"/>
<circle cx="1755.6" cy="178.4" r="4.9" fill="url(#gb3)"/>
<circle cx="1783.6" cy="128.0" r="4.9" fill="url(#gb3)"/>
<circle cx="1707.0" cy="172.1" r="4.9" fill="url(#gb3)"/>
<circle cx="1818.5" cy="167.8" r="4.9" fill="url(#gb3)"/>
<circle cx="1696.7" cy="137.8" r="4.9" fill="url(#gb3)"/>
<circle cx="1823.9" cy="168.6" r="4.9" fill="url(#gb3)"/>
<circle cx="1802.1" cy="176.4" r="4.9" fill="url(#gb3)"/>
<circle cx="1761.1" cy="160.8" r="4.9" fill="url(#gb3)"/>
<circle cx="1694.5" cy="130.0" r="4.9" fill="url(#gb3)"/>
<circle cx="1716.3" cy="185.1" r="4.9" fill="url(#gb3)"/>
<circle cx="1793.5" cy="123.5" r="4.9" fill="url(#gb3)"/>
<circle cx="1720.8" cy="217.4" r="4.9" fill="url(#gb3)"/>
<circle cx="1770.7" cy="134.1" r="4.9" fill="url(#gb3)"/>
<circle cx="1750.4" cy="141.7" r="4.9" fill="url(#gb3)"/>
<circle cx="1725.6" cy="182.4" r="4.9" fill="url(#gb3)"/>
<circle cx="1708.8" cy="112.4" r="4.9" fill="url(#gb3)"/>
<circle cx="1724.6" cy="171.4" r="4.9" fill="url(#gb3)"/>
<circle cx="1671.6" cy="145.6" r="4.9" fill="url(#gb3)"/>
<circle cx="1825.1" cy="131.4" r="4.9" fill="url(#gb3)"/>
<circle cx="1849.2" cy="157.3" r="4.9" fill="url(#gb3)"/>
<circle cx="1708.3" cy="120.9" r="4.9" fill="url(#gb3)"/>
<circle cx="1807.1" cy="174.3" r="4.9" fill="url(#gb3)"/>
<circle cx="1702.4" cy="121.5" r="4.9" fill="url(#gb3)"/>
<circle cx="1645.4" cy="168.9" r="4.9" fill="url(#gb3)"/>
<circle cx="1696.8" cy="207.9" r="4.9" fill="url(#gb3)"/>
<circle cx="1704.2" cy="165.0" r="4.9" fill="url(#gb3)"/>
<circle cx="1770.6" cy="211.4" r="4.9" fill="url(#gb3)"/>
<circle cx="1730.6" cy="179.7" r="4.9" fill="url(#gb3)"/>
<circle cx="1756.2" cy="190.9" r="4.9" fill="url(#gb3)"/>
<circle cx="1839.7" cy="147.5" r="4.9" fill="url(#gb3)"/>
<circle cx="1714.6" cy="170.4" r="4.9" fill="url(#gb3)"/>
<circle cx="1796.1" cy="149.3" r="4.9" fill="url(#gb3)"/>
<circle cx="1667.5" cy="151.9" r="4.9" fill="url(#gb3)"/>
<circle cx="1706.0" cy="116.7" r="4.9" fill="url(#gb3)"/>
<circle cx="1802.8" cy="162.9" r="4.9" fill="url(#gb3)"/>
<circle cx="1725.2" cy="225.5" r="4.9" fill="url(#gb3)"/>
<circle cx="1834.8" cy="141.8" r="4.9" fill="url(#gb4)"/>
<circle cx="1798.7" cy="159.9" r="4.9" fill="url(#gb4)"/>
<circle cx="1753.5" cy="136.4" r="4.9" fill="url(#gb4)"/>
<circle cx="1847.7" cy="161.9" r="4.9" fill="url(#gb4)"/>
<circle cx="1749.9" cy="190.2" r="4.9" fill="url(#gb4)"/>
<circle cx="1788.7" cy="165.8" r="4.9" fill="url(#gb4)"/>
<circle cx="1673.5" cy="167.8" r="4.9" fill="url(#gb4)"/>
<circle cx="1773.9" cy="155.4" r="4.9" fill="url(#gb4)"/>
<circle cx="1761.6" cy="225.0" r="4.9" fill="url(#gb4)"/>
<circle cx="1768.1" cy="174.3" r="4.9" fill="url(#gb4)"/>
<circle cx="1796.9" cy="173.9" r="4.9" fill="url(#gb4)"/>
<circle cx="1765.5" cy="205.8" r="4.9" fill="url(#gb4)"/>
<circle cx="1762.1" cy="236.5" r="4.9" fill="url(#gb4)"/>
<circle cx="1829.7" cy="132.4" r="4.9" fill="url(#gb4)"/>
<circle cx="1778.2" cy="161.0" r="4.9" fill="url(#gb4)"/>
<circle cx="1709.4" cy="193.7" r="4.9" fill="url(#gb4)"/>
<circle cx="1670.9" cy="140.2" r="4.9" fill="url(#gb4)"/>
<circle cx="1691.8" cy="169.7" r="4.9" fill="url(#gb4)"/>
<circle cx="1708.9" cy="158.3" r="4.9" fill="url(#gb4)"/>
<circle cx="1658.5" cy="152.2" r="4.9" fill="url(#gb4)"/>
<circle cx="1781.7" cy="190.5" r="4.9" fill="url(#gb4)"/>
<circle cx="1746.9" cy="166.1" r="4.9" fill="url(#gb4)"/>
<circle cx="1756.2" cy="162.3" r="4.9" fill="url(#gb4)"/>
<circle cx="1700.9" cy="116.8" r="4.9" fill="url(#gb4)"/>
<circle cx="1686.4" cy="202.6" r="4.9" fill="url(#gb4)"/>
<circle cx="1752.3" cy="131.9" r="4.9" fill="url(#gb4)"/>
<circle cx="1789.0" cy="127.7" r="4.9" fill="url(#gb4)"/>
<circle cx="1787.3" cy="153.1" r="4.9" fill="url(#gb4)"/>
<circle cx="1759.1" cy="133.4" r="4.9" fill="url(#gb4)"/>
<circle cx="1833.2" cy="146.2" r="4.9" fill="url(#gb4)"/>
<circle cx="1770.0" cy="164.8" r="4.9" fill="url(#gb4)"/>
<circle cx="1696.8" cy="166.0" r="4.9" fill="url(#gb4)"/>
<circle cx="1809.8" cy="131.0" r="4.9" fill="url(#gb4)"/>
<circle cx="1712.0" cy="179.5" r="4.9" fill="url(#gb4)"/>
<circle cx="1786.2" cy="175.7" r="4.9" fill="url(#gb4)"/>
<circle cx="1794.2" cy="157.9" r="4.9" fill="url(#gb4)"/>
<circle cx="1771.8" cy="142.2" r="4.9" fill="url(#gb4)"/>
<circle cx="1701.0" cy="178.2" r="4.9" fill="url(#gb4)"/>
<circle cx="1721.0" cy="180.1" r="4.9" fill="url(#gb4)"/>
<circle cx="1776.8" cy="165.6" r="4.9" fill="url(#gb4)"/>
<circle cx="1841.1" cy="164.6" r="4.9" fill="url(#gb4)"/>
<circle cx="1700.0" cy="193.8" r="4.9" fill="url(#gb4)"/>
<circle cx="1707.5" cy="178.3" r="4.9" fill="url(#gb4)"/>
<circle cx="1730.7" cy="234.1" r="4.9" fill="url(#gb4)"/>
<circle cx="1695.5" cy="195.7" r="4.9" fill="url(#gb4)"/>
<circle cx="1729.9" cy="170.0" r="4.9" fill="url(#gb4)"/>
<circle cx="1756.6" cy="150.8" r="4.9" fill="url(#gb4)"/>
<circle cx="1752.7" cy="146.7" r="4.9" fill="url(#gb4)"/>
<circle cx="1837.6" cy="151.9" r="4.9" fill="url(#gb4)"/>
<circle cx="1777.6" cy="111.2" r="4.9" fill="url(#gb4)"/>
<circle cx="1654.6" cy="172.2" r="4.9" fill="url(#gb4)"/>
<circle cx="1752.5" cy="170.6" r="4.9" fill="url(#gb4)"/>
<circle cx="1699.1" cy="155.3" r="4.9" fill="url(#gb4)"/>
<circle cx="1719.3" cy="148.8" r="4.9" fill="url(#gb4)"/>
<circle cx="1692.5" cy="161.5" r="4.9" fill="url(#gb4)"/>
<circle cx="1805.6" cy="195.1" r="4.9" fill="url(#gb4)"/>
<circle cx="1794.0" cy="210.8" r="4.9" fill="url(#gb4)"/>
<circle cx="1767.4" cy="169.2" r="4.9" fill="url(#gb4)"/>
<circle cx="1812.3" cy="176.6" r="4.9" fill="url(#gb4)"/>
<circle cx="1729.2" cy="175.1" r="4.9" fill="url(#gb4)"/>
<circle cx="1816.4" cy="147.1" r="4.9" fill="url(#gb4)"/>
<circle cx="1741.4" cy="159.0" r="4.9" fill="url(#gb4)"/>
<circle cx="1742.1" cy="165.2" r="4.9" fill="url(#gb4)"/>
<circle cx="1691.6" cy="139.6" r="4.9" fill="url(#gb4)"/>
<circle cx="1718.5" cy="123.3" r="4.9" fill="url(#gb4)"/>
<circle cx="1804.4" cy="133.0" r="4.9" fill="url(#gb4)"/>
<circle cx="1777.4" cy="148.9" r="4.9" fill="url(#gb4)"/>
<circle cx="1822.3" cy="159.2" r="4.9" fill="url(#gb4)"/>
<circle cx="1713.9" cy="146.8" r="4.9" fill="url(#gb4)"/>
<circle cx="1734.0" cy="193.4" r="4.9" fill="url(#gb4)"/>
<circle cx="1682.5" cy="141.3" r="4.9" fill="url(#gb4)"/>
<circle cx="1813.5" cy="185.0" r="4.9" fill="url(#gb4)"/>
<circle cx="1695.4" cy="143.1" r="4.9" fill="url(#gb4)"/>
<circle cx="1685.7" cy="160.9" r="4.9" fill="url(#gb4)"/>
<circle cx="1801.2" cy="142.2" r="4.9" fill="url(#gb4)"/>
<circle cx="1711.3" cy="188.9" r="4.9" fill="url(#gb4)"/>
<circle cx="1704.3" cy="139.1" r="4.9" fill="url(#gb4)"/>
<circle cx="1796.0" cy="142.9" r="4.9" fill="url(#gb4)"/>
<circle cx="1664.5" cy="199.0" r="4.9" fill="url(#gb4)"/>
<circle cx="1821.8" cy="452.6" r="4.9" fill="url(#go0)"/>
<circle cx="1644.3" cy="430.1" r="4.9" fill="url(#go0)"/>
<circle cx="1859.0" cy="462.6" r="4.9" fill="url(#go0)"/>
<circle cx="1851.4" cy="394.5" r="4.9" fill="url(#go0)"/>
<circle cx="1651.0" cy="385.4" r="4.9" fill="url(#go0)"/>
<circle cx="1840.1" cy="444.4" r="4.9" fill="url(#go0)"/>
<circle cx="1792.2" cy="459.0" r="4.9" fill="url(#go0)"/>
<circle cx="1847.7" cy="460.3" r="4.9" fill="url(#go0)"/>
<circle cx="1662.1" cy="408.2" r="4.9" fill="url(#go0)"/>
<circle cx="1618.9" cy="466.2" r="4.9" fill="url(#go0)"/>
<circle cx="1643.8" cy="365.1" r="4.9" fill="url(#go0)"/>
<circle cx="1784.1" cy="472.4" r="4.9" fill="url(#go0)"/>
<circle cx="1639.9" cy="473.8" r="4.9" fill="url(#go0)"/>
<circle cx="1838.8" cy="502.6" r="4.9" fill="url(#go0)"/>
<circle cx="1835.6" cy="505.0" r="4.9" fill="url(#go0)"/>
<circle cx="1672.7" cy="440.4" r="4.9" fill="url(#go0)"/>
<circle cx="1679.4" cy="499.2" r="4.9" fill="url(#go0)"/>
<circle cx="1713.9" cy="488.0" r="4.9" fill="url(#go0)"/>
<circle cx="1643.8" cy="401.0" r="4.9" fill="url(#go0)"/>
<circle cx="1837.8" cy="428.6" r="4.9" fill="url(#go0)"/>
<circle cx="1680.5" cy="353.7" r="4.9" fill="url(#go0)"/>
<circle cx="1835.3" cy="448.5" r="4.9" fill="url(#go0)"/>
<circle cx="1728.3" cy="471.6" r="4.9" fill="url(#go0)"/>
<circle cx="1642.8" cy="470.2" r="4.9" fill="url(#go0)"/>
<circle cx="1681.3" cy="383.0" r="4.9" fill="url(#go0)"/>
<circle cx="1889.4" cy="432.1" r="4.9" fill="url(#go0)"/>
<circle cx="1645.7" cy="443.7" r="4.9" fill="url(#go0)"/>
<circle cx="1779.2" cy="471.8" r="4.9" fill="url(#go0)"/>
<circle cx="1822.6" cy="462.5" r="4.9" fill="url(#go0)"/>
<circle cx="1831.0" cy="418.9" r="4.9" fill="url(#go0)"/>
<circle cx="1717.9" cy="491.3" r="4.9" fill="url(#go0)"/>
<circle cx="1666.4" cy="426.3" r="4.9" fill="url(#go0)"/>
<circle cx="1668.8" cy="376.1" r="4.9" fill="url(#go0)"/>
<circle cx="1624.8" cy="438.6" r="4.9" fill="url(#go0)"/>
<circle cx="1655.1" cy="450.2" r="4.9" fill="url(#go0)"/>
<circle cx="1717.1" cy="474.9" r="4.9" fill="url(#go0)"/>
<circle cx="1618.6" cy="418.6" r="4.9" fill="url(#go0)"/>
<circle cx="1784.0" cy="478.3" r="4.9" fill="url(#go0)"/>
<circle cx="1842.6" cy="472.4" r="4.9" fill="url(#go0)"/>
<circle cx="1838.4" cy="449.1" r="4.9" fill="url(#go0)"/>
<circle cx="1922.1" cy="410.9" r="4.9" fill="url(#go0)"/>
<circle cx="1692.5" cy="417.1" r="4.9" fill="url(#go0)"/>
<circle cx="1768.4" cy="454.4" r="4.9" fill="url(#go0)"/>
<circle cx="1685.2" cy="351.8" r="4.9" fill="url(#go0)"/>
<circle cx="1644.6" cy="477.4" r="4.9" fill="url(#go0)"/>
<circle cx="1826.8" cy="504.9" r="4.9" fill="url(#go0)"/>
<circle cx="1605.9" cy="471.5" r="4.9" fill="url(#go0)"/>
<circle cx="1680.9" cy="426.0" r="4.9" fill="url(#go0)"/>
<circle cx="1904.2" cy="423.3" r="4.9" fill="url(#go0)"/>
<circle cx="1731.0" cy="475.1" r="4.9" fill="url(#go0)"/>
<circle cx="1638.8" cy="394.2" r="4.9" fill="url(#go0)"/>
<circle cx="1834.7" cy="387.2" r="4.9" fill="url(#go0)"/>
<circle cx="1820.9" cy="456.2" r="4.9" fill="url(#go0)"/>
<circle cx="1688.2" cy="399.2" r="4.9" fill="url(#go0)"/>
<circle cx="1927.5" cy="381.3" r="4.9" fill="url(#go0)"/>
<circle cx="1609.5" cy="412.5" r="4.9" fill="url(#go0)"/>
<circle cx="1931.6" cy="388.2" r="4.9" fill="url(#go0)"/>
<circle cx="1854.0" cy="436.7" r="4.9" fill="url(#go0)"/>
<circle cx="1914.6" cy="394.5" r="4.9" fill="url(#go0)"/>
<circle cx="1636.6" cy="359.7" r="4.9" fill="url(#go0)"/>
<circle cx="1865.1" cy="394.0" r="4.9" fill="url(#go0)"/>
<circle cx="1842.6" cy="459.6" r="4.9" fill="url(#go0)"/>
<circle cx="1650.0" cy="395.8" r="4.9" fill="url(#go0)"/>
<circle cx="1881.9" cy="439.3" r="4.9" fill="url(#go0)"/>
<circle cx="1826.7" cy="500.5" r="4.9" fill="url(#go0)"/>
<circle cx="1815.5" cy="432.4" r="4.9" fill="url(#go0)"/>
<circle cx="1623.7" cy="395.6" r="4.9" fill="url(#go0)"/>
<circle cx="1599.0" cy="425.3" r="4.9" fill="url(#go0)"/>
<circle cx="1867.6" cy="432.7" r="4.9" fill="url(#go0)"/>
<circle cx="1833.4" cy="401.0" r="4.9" fill="url(#go0)"/>
<circle cx="1857.8" cy="449.8" r="4.9" fill="url(#go0)"/>
<circle cx="1787.4" cy="462.9" r="4.9" fill="url(#go0)"/>
<circle cx="1647.5" cy="368.2" r="4.9" fill="url(#go0)"/>
<circle cx="1853.1" cy="398.8" r="4.9" fill="url(#go0)"/>
<circle cx="1929.3" cy="413.0" r="4.9" fill="url(#go0)"/>
<circle cx="1854.7" cy="400.8" r="4.9" fill="url(#go0)"/>
<circle cx="1651.1" cy="426.6" r="4.9" fill="url(#go0)"/>
<circle cx="1672.8" cy="400.5" r="4.9" fill="url(#go0)"/>
<circle cx="1841.1" cy="422.8" r="4.9" fill="url(#go0)"/>
<circle cx="1673.6" cy="411.2" r="4.9" fill="url(#go0)"/>
<circle cx="1670.4" cy="505.7" r="4.9" fill="url(#go0)"/>
<circle cx="1877.9" cy="387.6" r="4.9" fill="url(#go0)"/>
<circle cx="1809.7" cy="508.7" r="4.9" fill="url(#go0)"/>
<circle cx="1689.1" cy="419.0" r="4.9" fill="url(#go0)"/>
<circle cx="1599.3" cy="422.4" r="4.9" fill="url(#go0)"/>
<circle cx="1895.0" cy="415.7" r="4.9" fill="url(#go0)"/>
<circle cx="1763.4" cy="436.8" r="4.9" fill="url(#go0)"/>
<circle cx="1827.2" cy="487.6" r="4.9" fill="url(#go0)"/>
<circle cx="1811.5" cy="504.4" r="4.9" fill="url(#go0)"/>
<circle cx="1826.1" cy="402.5" r="4.9" fill="url(#go0)"/>
<circle cx="1658.0" cy="387.9" r="4.9" fill="url(#go0)"/>
<circle cx="1670.9" cy="425.0" r="4.9" fill="url(#go0)"/>
<circle cx="1670.5" cy="384.8" r="4.9" fill="url(#go0)"/>
<circle cx="1918.0" cy="382.7" r="4.9" fill="url(#go0)"/>
<circle cx="1854.6" cy="386.9" r="4.9" fill="url(#go0)"/>
<circle cx="1851.3" cy="446.1" r="4.9" fill="url(#go0)"/>
<circle cx="1663.9" cy="352.5" r="4.9" fill="url(#go0)"/>
<circle cx="1645.3" cy="342.0" r="4.9" fill="url(#go0)"/>
<circle cx="1603.4" cy="468.5" r="4.9" fill="url(#go0)"/>
<circle cx="1833.8" cy="398.5" r="4.9" fill="url(#go0)"/>
<circle cx="1641.5" cy="380.8" r="4.9" fill="url(#go0)"/>
<circle cx="1596.8" cy="454.7" r="4.9" fill="url(#go0)"/>
<circle cx="1822.4" cy="434.6" r="4.9" fill="url(#go0)"/>
<circle cx="1684.6" cy="503.8" r="4.9" fill="url(#go0)"/>
<circle cx="1903.9" cy="406.1" r="4.9" fill="url(#go0)"/>
<circle cx="1639.8" cy="446.8" r="4.9" fill="url(#go0)"/>
<circle cx="1860.9" cy="449.0" r="4.9" fill="url(#go0)"/>
<circle cx="1647.6" cy="408.9" r="4.9" fill="url(#go0)"/>
<circle cx="1650.8" cy="478.4" r="4.9" fill="url(#go0)"/>
<circle cx="1692.2" cy="499.7" r="4.9" fill="url(#go0)"/>
<circle cx="1643.8" cy="362.3" r="4.9" fill="url(#go0)"/>
<circle cx="1634.9" cy="441.3" r="4.9" fill="url(#go0)"/>
<circle cx="1688.3" cy="445.4" r="4.9" fill="url(#go0)"/>
<circle cx="1675.5" cy="346.6" r="4.9" fill="url(#go0)"/>
<circle cx="1902.4" cy="402.3" r="4.9" fill="url(#go0)"/>
<circle cx="1799.7" cy="472.4" r="4.9" fill="url(#go1)"/>
<circle cx="1774.4" cy="477.8" r="4.9" fill="url(#go1)"/>
<circle cx="1670.6" cy="357.3" r="4.9" fill="url(#go1)"/>
<circle cx="1824.2" cy="444.5" r="4.9" fill="url(#go1)"/>
<circle cx="1645.7" cy="406.4" r="4.9" fill="url(#go1)"/>
<circle cx="1640.1" cy="358.8" r="4.9" fill="url(#go1)"/>
<circle cx="1642.7" cy="356.4" r="4.9" fill="url(#go1)"/>
<circle cx="1648.1" cy="343.9" r="4.9" fill="url(#go1)"/>
<circle cx="1640.1" cy="416.7" r="4.9" fill="url(#go1)"/>
<circle cx="1579.8" cy="468.5" r="4.9" fill="url(#go1)"/>
<circle cx="1638.3" cy="476.8" r="4.9" fill="url(#go1)"/>
<circle cx="1658.1" cy="412.0" r="4.9" fill="url(#go1)"/>
<circle cx="1691.2" cy="444.6" r="4.9" fill="url(#go1)"/>
<circle cx="1640.9" cy="438.2" r="4.9" fill="url(#go1)"/>
<circle cx="1633.2" cy="390.1" r="4.9" fill="url(#go1)"/>
<circle cx="1845.5" cy="396.1" r="4.9" fill="url(#go1)"/>
<circle cx="1810.2" cy="481.9" r="4.9" fill="url(#go1)"/>
<circle cx="1845.2" cy="451.0" r="4.9" fill="url(#go1)"/>
<circle cx="1780.6" cy="460.3" r="4.9" fill="url(#go1)"/>
<circle cx="1687.2" cy="439.7" r="4.9" fill="url(#go1)"/>
<circle cx="1904.1" cy="413.3" r="4.9" fill="url(#go1)"/>
<circle cx="1795.0" cy="473.2" r="4.9" fill="url(#go1)"/>
<circle cx="1760.0" cy="433.7" r="4.9" fill="url(#go1)"/>
<circle cx="1925.3" cy="374.0" r="4.9" fill="url(#go1)"/>
<circle cx="1663.6" cy="346.6" r="4.9" fill="url(#go1)"/>
<circle cx="1636.1" cy="385.6" r="4.9" fill="url(#go1)"/>
<circle cx="1924.2" cy="406.2" r="4.9" fill="url(#go1)"/>
<circle cx="1809.8" cy="474.8" r="4.9" fill="url(#go1)"/>
<circle cx="1896.7" cy="405.1" r="4.9" fill="url(#go1)"/>
<circle cx="1872.5" cy="414.2" r="4.9" fill="url(#go1)"/>
<circle cx="1676.3" cy="427.8" r="4.9" fill="url(#go1)"/>
<circle cx="1618.9" cy="406.8" r="4.9" fill="url(#go1)"/>
<circle cx="1670.6" cy="501.0" r="4.9" fill="url(#go1)"/>
<circle cx="1652.1" cy="413.1" r="4.9" fill="url(#go1)"/>
<circle cx="1586.7" cy="455.1" r="4.9" fill="url(#go1)"/>
<circle cx="1646.6" cy="378.5" r="4.9" fill="url(#go1)"/>
<circle cx="1876.4" cy="401.9" r="4.9" fill="url(#go1)"/>
<circle cx="1880.8" cy="420.0" r="4.9" fill="url(#go1)"/>
<circle cx="1916.5" cy="417.4" r="4.9" fill="url(#go1)"/>
<circle cx="1832.8" cy="385.6" r="4.9" fill="url(#go1)"/>
<circle cx="1616.4" cy="388.8" r="4.9" fill="url(#go1)"/>
<circle cx="1650.8" cy="390.8" r="4.9" fill="url(#go1)"/>
<circle cx="1807.3" cy="480.1" r="4.9" fill="url(#go1)"/>
<circle cx="1872.9" cy="392.4" r="4.9" fill="url(#go1)"/>
<circle cx="1813.8" cy="507.5" r="4.9" fill="url(#go1)"/>
<circle cx="1861.3" cy="457.2" r="4.9" fill="url(#go1)"/>
<circle cx="1635.0" cy="363.7" r="4.9" fill="url(#go1)"/>
<circle cx="1643.3" cy="347.8" r="4.9" fill="url(#go1)"/>
<circle cx="1716.8" cy="485.0" r="4.9" fill="url(#go1)"/>
<circle cx="1631.9" cy="423.3" r="4.9" fill="url(#go1)"/>
<circle cx="1844.6" cy="466.0" r="4.9" fill="url(#go1)"/>
<circle cx="1828.8" cy="465.3" r="4.9" fill="url(#go1)"/>
<circle cx="1626.4" cy="394.5" r="4.9" fill="url(#go1)"/>
<circle cx="1665.3" cy="401.1" r="4.9" fill="url(#go1)"/>
<circle cx="1621.2" cy="419.8" r="4.9" fill="url(#go1)"/>
<circle cx="1780.4" cy="456.6" r="4.9" fill="url(#go1)"/>
<circle cx="1823.3" cy="425.5" r="4.9" fill="url(#go1)"/>
<circle cx="1592.6" cy="447.5" r="4.9" fill="url(#go1)"/>
<circle cx="1913.0" cy="403.9" r="4.9" fill="url(#go1)"/>
<circle cx="1668.8" cy="353.8" r="4.9" fill="url(#go1)"/>
<circle cx="1659.2" cy="391.5" r="4.9" fill="url(#go1)"/>
<circle cx="1827.1" cy="445.8" r="4.9" fill="url(#go1)"/>
<circle cx="1676.4" cy="439.3" r="4.9" fill="url(#go1)"/>
<circle cx="1890.7" cy="417.6" r="4.9" fill="url(#go1)"/>
<circle cx="1840.6" cy="428.4" r="4.9" fill="url(#go1)"/>
<circle cx="1909.3" cy="405.9" r="4.9" fill="url(#go1)"/>
<circle cx="1605.9" cy="430.1" r="4.9" fill="url(#go1)"/>
<circle cx="1918.1" cy="422.8" r="4.9" fill="url(#go1)"/>
<circle cx="1649.1" cy="464.7" r="4.9" fill="url(#go1)"/>
<circle cx="1931.3" cy="383.4" r="4.9" fill="url(#go1)"/>
<circle cx="1666.6" cy="344.8" r="4.9" fill="url(#go1)"/>
<circle cx="1646.7" cy="390.4" r="4.9" fill="url(#go1)"/>
<circle cx="1903.3" cy="408.8" r="4.9" fill="url(#go1)"/>
<circle cx="1670.0" cy="496.2" r="4.9" fill="url(#go1)"/>
<circle cx="1841.3" cy="470.3" r="4.9" fill="url(#go1)"/>
<circle cx="1813.9" cy="439.7" r="4.9" fill="url(#go1)"/>
<circle cx="1680.0" cy="396.0" r="4.9" fill="url(#go1)"/>
<circle cx="1847.4" cy="420.2" r="4.9" fill="url(#go1)"/>
<circle cx="1849.1" cy="466.5" r="4.9" fill="url(#go1)"/>
<circle cx="1614.5" cy="434.6" r="4.9" fill="url(#go1)"/>
<circle cx="1891.5" cy="400.2" r="4.9" fill="url(#go1)"/>
<circle cx="1784.3" cy="467.2" r="4.9" fill="url(#go1)"/>
<circle cx="1596.2" cy="450.0" r="4.9" fill="url(#go1)"/>
<circle cx="1857.7" cy="459.5" r="4.9" fill="url(#go1)"/>
<circle cx="1651.5" cy="398.1" r="4.9" fill="url(#go1)"/>
<circle cx="1684.2" cy="437.6" r="4.9" fill="url(#go1)"/>
<circle cx="1589.5" cy="445.0" r="4.9" fill="url(#go1)"/>
<circle cx="1806.1" cy="488.0" r="4.9" fill="url(#go1)"/>
<circle cx="1715.2" cy="468.8" r="4.9" fill="url(#go1)"/>
<circle cx="1672.9" cy="366.9" r="4.9" fill="url(#go1)"/>
<circle cx="1780.9" cy="445.2" r="4.9" fill="url(#go1)"/>
<circle cx="1614.7" cy="406.0" r="4.9" fill="url(#go1)"/>
<circle cx="1764.3" cy="440.1" r="4.9" fill="url(#go1)"/>
<circle cx="1827.5" cy="414.8" r="4.9" fill="url(#go1)"/>
<circle cx="1642.3" cy="476.3" r="4.9" fill="url(#go1)"/>
<circle cx="1632.0" cy="356.9" r="4.9" fill="url(#go1)"/>
<circle cx="1713.0" cy="470.7" r="4.9" fill="url(#go1)"/>
<circle cx="1811.7" cy="445.6" r="4.9" fill="url(#go1)"/>
<circle cx="1661.5" cy="383.1" r="4.9" fill="url(#go1)"/>
<circle cx="1881.8" cy="397.1" r="4.9" fill="url(#go1)"/>
<circle cx="1723.8" cy="485.5" r="4.9" fill="url(#go1)"/>
<circle cx="1689.6" cy="427.7" r="4.9" fill="url(#go1)"/>
<circle cx="1872.3" cy="417.9" r="4.9" fill="url(#go1)"/>
<circle cx="1695.8" cy="479.6" r="4.9" fill="url(#go1)"/>
<circle cx="1660.8" cy="347.2" r="4.9" fill="url(#go1)"/>
<circle cx="1670.2" cy="361.5" r="4.9" fill="url(#go1)"/>
<circle cx="1695.7" cy="475.3" r="4.9" fill="url(#go1)"/>
<circle cx="1620.0" cy="393.3" r="4.9" fill="url(#go1)"/>
<circle cx="1795.2" cy="507.4" r="4.9" fill="url(#go1)"/>
<circle cx="1681.1" cy="416.8" r="4.9" fill="url(#go1)"/>
<circle cx="1877.2" cy="415.8" r="4.9" fill="url(#go1)"/>
<circle cx="1610.6" cy="388.5" r="4.9" fill="url(#go1)"/>
<circle cx="1822.4" cy="440.4" r="4.9" fill="url(#go2)"/>
<circle cx="1754.5" cy="458.9" r="4.9" fill="url(#go2)"/>
<circle cx="1806.7" cy="475.1" r="4.9" fill="url(#go2)"/>
<circle cx="1666.3" cy="363.9" r="4.9" fill="url(#go2)"/>
<circle cx="1618.1" cy="454.6" r="4.9" fill="url(#go2)"/>
<circle cx="1638.6" cy="382.8" r="4.9" fill="url(#go2)"/>
<circle cx="1835.1" cy="394.2" r="4.9" fill="url(#go2)"/>
<circle cx="1722.9" cy="478.1" r="4.9" fill="url(#go2)"/>
<circle cx="1652.2" cy="418.2" r="4.9" fill="url(#go2)"/>
<circle cx="1654.9" cy="418.6" r="4.9" fill="url(#go2)"/>
<circle cx="1683.6" cy="418.1" r="4.9" fill="url(#go2)"/>
<circle cx="1680.8" cy="393.0" r="4.9" fill="url(#go2)"/>
<circle cx="1609.1" cy="432.6" r="4.9" fill="url(#go2)"/>
<circle cx="1650.9" cy="376.9" r="4.9" fill="url(#go2)"/>
<circle cx="1789.3" cy="471.6" r="4.9" fill="url(#go2)"/>
<circle cx="1670.4" cy="388.2" r="4.9" fill="url(#go2)"/>
<circle cx="1849.7" cy="382.2" r="4.9" fill="url(#go2)"/>
<circle cx="1603.7" cy="461.5" r="4.9" fill="url(#go2)"/>
<circle cx="1647.6" cy="475.8" r="4.9" fill="url(#go2)"/>
<circle cx="1687.8" cy="403.3" r="4.9" fill="url(#go2)"/>
<circle cx="1914.2" cy="382.1" r="4.9" fill="url(#go2)"/>
<circle cx="1681.9" cy="422.1" r="4.9" fill="url(#go2)"/>
<circle cx="1661.9" cy="435.5" r="4.9" fill="url(#go2)"/>
<circle cx="1891.2" cy="429.1" r="4.9" fill="url(#go2)"/>
<circle cx="1647.4" cy="460.9" r="4.9" fill="url(#go2)"/>
<circle cx="1751.8" cy="454.2" r="4.9" fill="url(#go2)"/>
<circle cx="1668.9" cy="484.6" r="4.9" fill="url(#go2)"/>
<circle cx="1851.4" cy="437.0" r="4.9" fill="url(#go2)"/>
<circle cx="1920.8" cy="416.4" r="4.9" fill="url(#go2)"/>
<circle cx="1810.4" cy="501.8" r="4.9" fill="url(#go2)"/>
<circle cx="1882.9" cy="390.2" r="4.9" fill="url(#go2)"/>
<circle cx="1859.3" cy="392.9" r="4.9" fill="url(#go2)"/>
<circle cx="1843.5" cy="438.7" r="4.9" fill="url(#go2)"/>
<circle cx="1687.9" cy="414.6" r="4.9" fill="url(#go2)"/>
<circle cx="1645.2" cy="375.0" r="4.9" fill="url(#go2)"/>
<circle cx="1909.5" cy="377.1" r="4.9" fill="url(#go2)"/>
<circle cx="1674.7" cy="373.0" r="4.9" fill="url(#go2)"/>
<circle cx="1591.1" cy="476.4" r="4.9" fill="url(#go2)"/>
<circle cx="1650.3" cy="455.1" r="4.9" fill="url(#go2)"/>
<circle cx="1709.8" cy="468.6" r="4.9" fill="url(#go2)"/>
<circle cx="1595.9" cy="472.6" r="4.9" fill="url(#go2)"/>
<circle cx="1908.9" cy="402.0" r="4.9" fill="url(#go2)"/>
<circle cx="1807.2" cy="493.6" r="4.9" fill="url(#go2)"/>
<circle cx="1913.3" cy="397.8" r="4.9" fill="url(#go2)"/>
<circle cx="1624.8" cy="402.0" r="4.9" fill="url(#go2)"/>
<circle cx="1796.2" cy="489.7" r="4.9" fill="url(#go2)"/>
<circle cx="1856.6" cy="381.6" r="4.9" fill="url(#go2)"/>
<circle cx="1841.3" cy="402.8" r="4.9" fill="url(#go2)"/>
<circle cx="1624.4" cy="411.6" r="4.9" fill="url(#go2)"/>
<circle cx="1667.1" cy="439.9" r="4.9" fill="url(#go2)"/>
<circle cx="1832.1" cy="446.2" r="4.9" fill="url(#go2)"/>
<circle cx="1668.3" cy="414.5" r="4.9" fill="url(#go2)"/>
<circle cx="1724.3" cy="480.3" r="4.9" fill="url(#go2)"/>
<circle cx="1689.6" cy="504.5" r="4.9" fill="url(#go2)"/>
<circle cx="1909.3" cy="409.9" r="4.9" fill="url(#go2)"/>
<circle cx="1626.7" cy="410.6" r="4.9" fill="url(#go2)"/>
<circle cx="1916.5" cy="397.9" r="4.9" fill="url(#go2)"/>
<circle cx="1830.4" cy="422.7" r="4.9" fill="url(#go2)"/>
<circle cx="1687.3" cy="429.6" r="4.9" fill="url(#go2)"/>
<circle cx="1639.1" cy="468.5" r="4.9" fill="url(#go2)"/>
<circle cx="1880.0" cy="389.9" r="4.9" fill="url(#go2)"/>
<circle cx="1844.1" cy="509.5" r="4.9" fill="url(#go2)"/>
<circle cx="1741.8" cy="469.0" r="4.9" fill="url(#go2)"/>
<circle cx="1638.7" cy="362.9" r="4.9" fill="url(#go2)"/>
<circle cx="1691.7" cy="420.4" r="4.9" fill="url(#go2)"/>
<circle cx="1926.7" cy="391.7" r="4.9" fill="url(#go2)"/>
<circle cx="1802.7" cy="512.2" r="4.9" fill="url(#go2)"/>
<circle cx="1826.7" cy="459.4" r="4.9" fill="url(#go2)"/>
<circle cx="1842.1" cy="503.5" r="4.9" fill="url(#go2)"/>
<circle cx="1787.8" cy="440.4" r="4.9" fill="url(#go2)"/>
<circle cx="1640.9" cy="427.2" r="4.9" fill="url(#go2)"/>
<circle cx="1627.9" cy="436.3" r="4.9" fill="url(#go2)"/>
<circle cx="1647.2" cy="386.5" r="4.9" fill="url(#go2)"/>
<circle cx="1907.7" cy="418.7" r="4.9" fill="url(#go2)"/>
<circle cx="1826.1" cy="424.1" r="4.9" fill="url(#go2)"/>
<circle cx="1769.5" cy="449.0" r="4.9" fill="url(#go2)"/>
<circle cx="1687.6" cy="422.5" r="4.9" fill="url(#go2)"/>
<circle cx="1713.1" cy="474.4" r="4.9" fill="url(#go2)"/>
<circle cx="1659.4" cy="344.4" r="4.9" fill="url(#go2)"/>
<circle cx="1837.5" cy="380.6" r="4.9" fill="url(#go2)"/>
<circle cx="1658.3" cy="349.0" r="4.9" fill="url(#go2)"/>
<circle cx="1817.7" cy="458.8" r="4.9" fill="url(#go2)"/>
<circle cx="1842.8" cy="420.9" r="4.9" fill="url(#go2)"/>
<circle cx="1884.4" cy="440.8" r="4.9" fill="url(#go2)"/>
<circle cx="1605.0" cy="421.4" r="4.9" fill="url(#go2)"/>
<circle cx="1600.2" cy="430.5" r="4.9" fill="url(#go2)"/>
<circle cx="1854.4" cy="448.9" r="4.9" fill="url(#go2)"/>
<circle cx="1785.3" cy="441.8" r="4.9" fill="url(#go2)"/>
<circle cx="1853.4" cy="381.0" r="4.9" fill="url(#go2)"/>
<circle cx="1820.8" cy="471.0" r="4.9" fill="url(#go2)"/>
<circle cx="1792.4" cy="477.8" r="4.9" fill="url(#go2)"/>
<circle cx="1857.0" cy="453.8" r="4.9" fill="url(#go2)"/>
<circle cx="1691.4" cy="397.9" r="4.9" fill="url(#go2)"/>
<circle cx="1875.3" cy="422.0" r="4.9" fill="url(#go2)"/>
<circle cx="1676.7" cy="382.1" r="4.9" fill="url(#go2)"/>
<circle cx="1660.3" cy="440.4" r="4.9" fill="url(#go2)"/>
<circle cx="1846.0" cy="423.2" r="4.9" fill="url(#go2)"/>
<circle cx="1692.5" cy="473.8" r="4.9" fill="url(#go2)"/>
<circle cx="1649.2" cy="381.7" r="4.9" fill="url(#go2)"/>
<circle cx="1631.6" cy="428.3" r="4.9" fill="url(#go2)"/>
<circle cx="1695.0" cy="493.2" r="4.9" fill="url(#go2)"/>
<circle cx="1683.5" cy="400.5" r="4.9" fill="url(#go2)"/>
<circle cx="1675.8" cy="390.4" r="4.9" fill="url(#go2)"/>
<circle cx="1824.6" cy="486.0" r="4.9" fill="url(#go2)"/>
<circle cx="1636.4" cy="366.4" r="4.9" fill="url(#go2)"/>
<circle cx="1747.0" cy="468.1" r="4.9" fill="url(#go3)"/>
<circle cx="1822.9" cy="459.1" r="4.9" fill="url(#go3)"/>
<circle cx="1913.7" cy="414.5" r="4.9" fill="url(#go3)"/>
<circle cx="1906.6" cy="381.5" r="4.9" fill="url(#go3)"/>
<circle cx="1590.1" cy="459.3" r="4.9" fill="url(#go3)"/>
<circle cx="1592.7" cy="444.9" r="4.9" fill="url(#go3)"/>
<circle cx="1831.3" cy="396.2" r="4.9" fill="url(#go3)"/>
<circle cx="1824.4" cy="451.1" r="4.9" fill="url(#go3)"/>
<circle cx="1642.6" cy="383.8" r="4.9" fill="url(#go3)"/>
<circle cx="1787.0" cy="487.6" r="4.9" fill="url(#go3)"/>
<circle cx="1666.5" cy="352.5" r="4.9" fill="url(#go3)"/>
<circle cx="1682.3" cy="441.0" r="4.9" fill="url(#go3)"/>
<circle cx="1719.0" cy="482.5" r="4.9" fill="url(#go3)"/>
<circle cx="1614.2" cy="484.7" r="4.9" fill="url(#go3)"/>
<circle cx="1594.4" cy="453.5" r="4.9" fill="url(#go3)"/>
<circle cx="1643.2" cy="445.9" r="4.9" fill="url(#go3)"/>
<circle cx="1845.1" cy="486.0" r="4.9" fill="url(#go3)"/>
<circle cx="1644.1" cy="465.8" r="4.9" fill="url(#go3)"/>
<circle cx="1665.7" cy="442.7" r="4.9" fill="url(#go3)"/>
<circle cx="1677.5" cy="431.0" r="4.9" fill="url(#go3)"/>
<circle cx="1827.0" cy="472.7" r="4.9" fill="url(#go3)"/>
<circle cx="1675.0" cy="379.0" r="4.9" fill="url(#go3)"/>
<circle cx="1854.8" cy="460.4" r="4.9" fill="url(#go3)"/>
<circle cx="1841.5" cy="415.4" r="4.9" fill="url(#go3)"/>
<circle cx="1678.1" cy="389.6" r="4.9" fill="url(#go3)"/>
<circle cx="1672.7" cy="390.5" r="4.9" fill="url(#go3)"/>
<circle cx="1765.7" cy="445.7" r="4.9" fill="url(#go3)"/>
<circle cx="1670.8" cy="453.2" r="4.9" fill="url(#go3)"/>
<circle cx="1792.5" cy="510.2" r="4.9" fill="url(#go3)"/>
<circle cx="1829.3" cy="449.8" r="4.9" fill="url(#go3)"/>
<circle cx="1793.5" cy="468.2" r="4.9" fill="url(#go3)"/>
<circle cx="1921.3" cy="407.4" r="4.9" fill="url(#go3)"/>
<circle cx="1705.7" cy="468.6" r="4.9" fill="url(#go3)"/>
<circle cx="1789.3" cy="476.0" r="4.9" fill="url(#go3)"/>
<circle cx="1621.4" cy="414.2" r="4.9" fill="url(#go3)"/>
<circle cx="1895.0" cy="424.2" r="4.9" fill="url(#go3)"/>
<circle cx="1669.7" cy="345.9" r="4.9" fill="url(#go3)"/>
<circle cx="1627.1" cy="441.1" r="4.9" fill="url(#go3)"/>
<circle cx="1676.7" cy="394.6" r="4.9" fill="url(#go3)"/>
<circle cx="1613.6" cy="409.9" r="4.9" fill="url(#go3)"/>
<circle cx="1669.4" cy="492.1" r="4.9" fill="url(#go3)"/>
<circle cx="1638.4" cy="413.2" r="4.9" fill="url(#go3)"/>
<circle cx="1784.3" cy="438.9" r="4.9" fill="url(#go3)"/>
<circle cx="1840.1" cy="410.5" r="4.9" fill="url(#go3)"/>
<circle cx="1764.4" cy="443.0" r="4.9" fill="url(#go3)"/>
<circle cx="1601.7" cy="463.9" r="4.9" fill="url(#go3)"/>
<circle cx="1595.0" cy="475.0" r="4.9" fill="url(#go3)"/>
<circle cx="1801.8" cy="462.1" r="4.9" fill="url(#go3)"/>
<circle cx="1654.8" cy="340.3" r="4.9" fill="url(#go3)"/>
<circle cx="1863.3" cy="397.6" r="4.9" fill="url(#go3)"/>
<circle cx="1834.5" cy="439.7" r="4.9" fill="url(#go3)"/>
<circle cx="1737.8" cy="472.9" r="4.9" fill="url(#go3)"/>
<circle cx="1854.5" cy="391.4" r="4.9" fill="url(#go3)"/>
<circle cx="1687.1" cy="504.8" r="4.9" fill="url(#go3)"/>
<circle cx="1841.9" cy="467.8" r="4.9" fill="url(#go3)"/>
<circle cx="1922.2" cy="378.9" r="4.9" fill="url(#go3)"/>
<circle cx="1664.1" cy="372.9" r="4.9" fill="url(#go3)"/>
<circle cx="1696.7" cy="500.7" r="4.9" fill="url(#go3)"/>
<circle cx="1834.0" cy="421.0" r="4.9" fill="url(#go3)"/>
<circle cx="1591.7" cy="451.0" r="4.9" fill="url(#go3)"/>
<circle cx="1914.3" cy="387.3" r="4.9" fill="url(#go3)"/>
<circle cx="1855.5" cy="397.8" r="4.9" fill="url(#go3)"/>
<circle cx="1927.4" cy="397.6" r="4.9" fill="url(#go3)"/>
<circle cx="1596.7" cy="480.8" r="4.9" fill="url(#go3)"/>
<circle cx="1675.1" cy="350.2" r="4.9" fill="url(#go3)"/>
<circle cx="1870.3" cy="435.0" r="4.9" fill="url(#go3)"/>
<circle cx="1752.0" cy="457.4" r="4.9" fill="url(#go3)"/>
<circle cx="1633.9" cy="395.5" r="4.9" fill="url(#go3)"/>
<circle cx="1813.9" cy="466.4" r="4.9" fill="url(#go3)"/>
<circle cx="1795.9" cy="468.0" r="4.9" fill="url(#go3)"/>
<circle cx="1843.1" cy="483.0" r="4.9" fill="url(#go3)"/>
<circle cx="1681.7" cy="412.3" r="4.9" fill="url(#go3)"/>
<circle cx="1656.6" cy="447.0" r="4.9" fill="url(#go3)"/>
<circle cx="1655.7" cy="351.7" r="4.9" fill="url(#go3)"/>
<circle cx="1797.7" cy="482.7" r="4.9" fill="url(#go3)"/>
<circle cx="1633.3" cy="413.6" r="4.9" fill="url(#go3)"/>
<circle cx="1878.4" cy="438.9" r="4.9" fill="url(#go3)"/>
<circle cx="1635.4" cy="473.9" r="4.9" fill="url(#go3)"/>
<circle cx="1582.4" cy="479.7" r="4.9" fill="url(#go3)"/>
<circle cx="1857.5" cy="439.7" r="4.9" fill="url(#go3)"/>
<circle cx="1662.7" cy="453.8" r="4.9" fill="url(#go3)"/>
<circle cx="1614.9" cy="422.2" r="4.9" fill="url(#go3)"/>
<circle cx="1855.8" cy="395.0" r="4.9" fill="url(#go3)"/>
<circle cx="1641.4" cy="396.9" r="4.9" fill="url(#go3)"/>
<circle cx="1788.5" cy="468.7" r="4.9" fill="url(#go3)"/>
<circle cx="1810.7" cy="487.4" r="4.9" fill="url(#go3)"/>
<circle cx="1855.0" cy="445.9" r="4.9" fill="url(#go3)"/>
<circle cx="1641.9" cy="420.4" r="4.9" fill="url(#go3)"/>
<circle cx="1661.6" cy="411.0" r="4.9" fill="url(#go3)"/>
<circle cx="1920.9" cy="403.0" r="4.9" fill="url(#go3)"/>
<circle cx="1918.4" cy="415.6" r="4.9" fill="url(#go3)"/>
<circle cx="1896.1" cy="441.7" r="4.9" fill="url(#go3)"/>
<circle cx="1579.2" cy="471.9" r="4.9" fill="url(#go3)"/>
<circle cx="1607.0" cy="417.3" r="4.9" fill="url(#go3)"/>
<circle cx="1833.1" cy="381.3" r="4.9" fill="url(#go3)"/>
<circle cx="1631.1" cy="408.2" r="4.9" fill="url(#go3)"/>
<circle cx="1666.9" cy="418.4" r="4.9" fill="url(#go3)"/>
<circle cx="1683.1" cy="433.6" r="4.9" fill="url(#go3)"/>
<circle cx="1836.7" cy="474.3" r="4.9" fill="url(#go3)"/>
<circle cx="1611.1" cy="414.6" r="4.9" fill="url(#go3)"/>
<circle cx="1587.7" cy="476.2" r="4.9" fill="url(#go3)"/>
<circle cx="1849.8" cy="450.8" r="4.9" fill="url(#go3)"/>
<circle cx="1675.8" cy="362.3" r="4.9" fill="url(#go3)"/>
<circle cx="1631.6" cy="433.3" r="4.9" fill="url(#go3)"/>
<circle cx="1673.2" cy="382.9" r="4.9" fill="url(#go3)"/>
<circle cx="1631.0" cy="401.4" r="4.9" fill="url(#go3)"/>
<circle cx="1792.1" cy="482.9" r="4.9" fill="url(#go3)"/>
<circle cx="1776.1" cy="453.3" r="4.9" fill="url(#go3)"/>
<circle cx="1727.8" cy="478.3" r="4.9" fill="url(#go3)"/>
<circle cx="1926.4" cy="408.2" r="4.9" fill="url(#go3)"/>
<circle cx="1691.4" cy="448.1" r="4.9" fill="url(#go3)"/>
<circle cx="1646.2" cy="422.4" r="4.9" fill="url(#go3)"/>
<circle cx="1877.4" cy="407.5" r="4.9" fill="url(#go3)"/>
<circle cx="1843.9" cy="463.3" r="4.9" fill="url(#go3)"/>
<circle cx="1689.8" cy="401.0" r="4.9" fill="url(#go3)"/>
<circle cx="1617.8" cy="437.3" r="4.9" fill="url(#go3)"/>
<circle cx="1829.8" cy="505.0" r="4.9" fill="url(#go3)"/>
<circle cx="1641.9" cy="390.9" r="4.9" fill="url(#go4)"/>
<circle cx="1724.6" cy="473.0" r="4.9" fill="url(#go4)"/>
<circle cx="1794.4" cy="481.1" r="4.9" fill="url(#go4)"/>
<circle cx="1804.5" cy="469.0" r="4.9" fill="url(#go4)"/>
<circle cx="1666.6" cy="349.1" r="4.9" fill="url(#go4)"/>
<circle cx="1844.4" cy="385.3" r="4.9" fill="url(#go4)"/>
<circle cx="1797.9" cy="510.1" r="4.9" fill="url(#go4)"/>
<circle cx="1847.5" cy="475.2" r="4.9" fill="url(#go4)"/>
<circle cx="1822.8" cy="448.7" r="4.9" fill="url(#go4)"/>
<circle cx="1667.6" cy="370.1" r="4.9" fill="url(#go4)"/>
<circle cx="1673.6" cy="427.2" r="4.9" fill="url(#go4)"/>
<circle cx="1664.5" cy="393.9" r="4.9" fill="url(#go4)"/>
<circle cx="1654.2" cy="391.3" r="4.9" fill="url(#go4)"/>
<circle cx="1602.7" cy="431.6" r="4.9" fill="url(#go4)"/>
<circle cx="1918.5" cy="379.6" r="4.9" fill="url(#go4)"/>
<circle cx="1625.1" cy="404.7" r="4.9" fill="url(#go4)"/>
<circle cx="1635.8" cy="354.9" r="4.9" fill="url(#go4)"/>
<circle cx="1868.8" cy="393.4" r="4.9" fill="url(#go4)"/>
<circle cx="1879.0" cy="422.8" r="4.9" fill="url(#go4)"/>
<circle cx="1571.2" cy="467.3" r="4.9" fill="url(#go4)"/>
<circle cx="1848.9" cy="486.3" r="4.9" fill="url(#go4)"/>
<circle cx="1762.6" cy="446.7" r="4.9" fill="url(#go4)"/>
<circle cx="1861.1" cy="460.1" r="4.9" fill="url(#go4)"/>
<circle cx="1659.2" cy="482.5" r="4.9" fill="url(#go4)"/>
<circle cx="1618.1" cy="459.2" r="4.9" fill="url(#go4)"/>
<circle cx="1585.1" cy="468.3" r="4.9" fill="url(#go4)"/>
<circle cx="1931.6" cy="407.1" r="4.9" fill="url(#go4)"/>
<circle cx="1681.0" cy="380.1" r="4.9" fill="url(#go4)"/>
<circle cx="1639.4" cy="355.6" r="4.9" fill="url(#go4)"/>
<circle cx="1591.9" cy="466.9" r="4.9" fill="url(#go4)"/>
<circle cx="1875.5" cy="438.1" r="4.9" fill="url(#go4)"/>
<circle cx="1777.9" cy="480.9" r="4.9" fill="url(#go4)"/>
<circle cx="1668.4" cy="499.8" r="4.9" fill="url(#go4)"/>
<circle cx="1927.4" cy="377.3" r="4.9" fill="url(#go4)"/>
<circle cx="1929.3" cy="409.5" r="4.9" fill="url(#go4)"/>
<circle cx="1777.7" cy="451.4" r="4.9" fill="url(#go4)"/>
<circle cx="1690.9" cy="410.4" r="4.9" fill="url(#go4)"/>
<circle cx="1913.8" cy="376.5" r="4.9" fill="url(#go4)"/>
<circle cx="1597.0" cy="445.1" r="4.9" fill="url(#go4)"/>
<circle cx="1829.0" cy="493.5" r="4.9" fill="url(#go4)"/>
<circle cx="1754.0" cy="463.2" r="4.9" fill="url(#go4)"/>
<circle cx="1919.2" cy="376.2" r="4.9" fill="url(#go4)"/>
<circle cx="1807.2" cy="511.7" r="4.9" fill="url(#go4)"/>
<circle cx="1803.0" cy="476.0" r="4.9" fill="url(#go4)"/>
<circle cx="1632.3" cy="472.9" r="4.9" fill="url(#go4)"/>
<circle cx="1850.3" cy="463.5" r="4.9" fill="url(#go4)"/>
<circle cx="1661.0" cy="397.0" r="4.9" fill="url(#go4)"/>
<circle cx="1674.8" cy="387.8" r="4.9" fill="url(#go4)"/>
<circle cx="1848.2" cy="483.8" r="4.9" fill="url(#go4)"/>
<circle cx="1882.0" cy="444.0" r="4.9" fill="url(#go4)"/>
<circle cx="1924.7" cy="412.2" r="4.9" fill="url(#go4)"/>
<circle cx="1653.3" cy="438.6" r="4.9" fill="url(#go4)"/>
<circle cx="1582.4" cy="463.3" r="4.9" fill="url(#go4)"/>
<circle cx="1843.3" cy="426.9" r="4.9" fill="url(#go4)"/>
<circle cx="1633.1" cy="384.4" r="4.9" fill="url(#go4)"/>
<circle cx="1654.5" cy="396.2" r="4.9" fill="url(#go4)"/>
<circle cx="1918.9" cy="393.9" r="4.9" fill="url(#go4)"/>
<circle cx="1931.9" cy="400.7" r="4.9" fill="url(#go4)"/>
<circle cx="1719.1" cy="469.7" r="4.9" fill="url(#go4)"/>
<circle cx="1923.6" cy="392.5" r="4.9" fill="url(#go4)"/>
<circle cx="1848.7" cy="395.3" r="4.9" fill="url(#go4)"/>
<circle cx="1643.8" cy="369.0" r="4.9" fill="url(#go4)"/>
<circle cx="1673.0" cy="397.9" r="4.9" fill="url(#go4)"/>
<circle cx="1784.8" cy="462.4" r="4.9" fill="url(#go4)"/>
<circle cx="1673.0" cy="405.2" r="4.9" fill="url(#go4)"/>
<circle cx="1667.3" cy="488.3" r="4.9" fill="url(#go4)"/>
<circle cx="1603.9" cy="424.9" r="4.9" fill="url(#go4)"/>
<circle cx="1645.7" cy="402.8" r="4.9" fill="url(#go4)"/>
<circle cx="1674.6" cy="503.6" r="4.9" fill="url(#go4)"/>
<circle cx="1664.8" cy="342.5" r="4.9" fill="url(#go4)"/>
<circle cx="1687.6" cy="406.8" r="4.9" fill="url(#go4)"/>
<circle cx="1671.5" cy="351.2" r="4.9" fill="url(#go4)"/>
<circle cx="1623.7" cy="432.6" r="4.9" fill="url(#go4)"/>
<circle cx="1694.2" cy="486.4" r="4.9" fill="url(#go4)"/>
<circle cx="1629.5" cy="411.9" r="4.9" fill="url(#go4)"/>
<circle cx="1810.2" cy="490.2" r="4.9" fill="url(#go4)"/>
<circle cx="1861.5" cy="388.5" r="4.9" fill="url(#go4)"/>
<circle cx="1848.3" cy="443.1" r="4.9" fill="url(#go4)"/>
<circle cx="1867.7" cy="389.9" r="4.9" fill="url(#go4)"/>
<circle cx="1678.4" cy="424.4" r="4.9" fill="url(#go4)"/>
<circle cx="1824.9" cy="428.3" r="4.9" fill="url(#go4)"/>
<circle cx="1614.2" cy="429.6" r="4.9" fill="url(#go4)"/>
<circle cx="1882.0" cy="393.7" r="4.9" fill="url(#go4)"/>
<circle cx="1670.6" cy="364.8" r="4.9" fill="url(#go4)"/>
<circle cx="1649.5" cy="424.4" r="4.9" fill="url(#go4)"/>
<circle cx="1668.5" cy="391.8" r="4.9" fill="url(#go4)"/>
<circle cx="1896.4" cy="402.2" r="4.9" fill="url(#go4)"/>
<circle cx="1798.0" cy="464.2" r="4.9" fill="url(#go4)"/>
<circle cx="1755.6" cy="454.1" r="4.9" fill="url(#go4)"/>
<circle cx="1911.8" cy="401.7" r="4.9" fill="url(#go4)"/>
<circle cx="1786.6" cy="484.4" r="4.9" fill="url(#go4)"/>
<circle cx="1832.7" cy="449.4" r="4.9" fill="url(#go4)"/>
<circle cx="1916.8" cy="375.2" r="4.9" fill="url(#go4)"/>
<circle cx="1682.5" cy="349.7" r="4.9" fill="url(#go4)"/>
<circle cx="1616.6" cy="416.2" r="4.9" fill="url(#go4)"/>
<circle cx="1896.9" cy="427.8" r="4.9" fill="url(#go4)"/>
<circle cx="1644.7" cy="439.2" r="4.9" fill="url(#go4)"/>
<circle cx="1665.7" cy="397.8" r="4.9" fill="url(#go4)"/>
<circle cx="1806.4" cy="482.8" r="4.9" fill="url(#go4)"/>
<circle cx="1644.0" cy="408.3" r="4.9" fill="url(#go4)"/>
<circle cx="1618.6" cy="471.6" r="4.9" fill="url(#go4)"/>
<circle cx="1656.4" cy="479.7" r="4.9" fill="url(#go4)"/>
<circle cx="1662.4" cy="483.4" r="4.9" fill="url(#go4)"/>
<circle cx="1838.3" cy="386.3" r="4.9" fill="url(#go4)"/>
<circle cx="1661.7" cy="389.9" r="4.9" fill="url(#go4)"/>
<circle cx="1685.4" cy="421.3" r="4.9" fill="url(#go4)"/>
<circle cx="1722.5" cy="488.2" r="4.9" fill="url(#go4)"/>
<circle cx="1711.6" cy="476.5" r="4.9" fill="url(#go4)"/>
<circle cx="1808.8" cy="477.4" r="4.9" fill="url(#go4)"/>
<circle cx="1648.5" cy="375.7" r="4.9" fill="url(#go4)"/>
<circle cx="1898.7" cy="413.7" r="4.9" fill="url(#go4)"/>
<circle cx="1847.6" cy="426.6" r="4.9" fill="url(#go4)"/>
<circle cx="1650.3" cy="347.6" r="4.9" fill="url(#go4)"/>
<circle cx="1827.1" cy="495.3" r="4.9" fill="url(#go4)"/>
<circle cx="1851.6" cy="391.6" r="4.9" fill="url(#go4)"/>
<circle cx="1773.7" cy="455.2" r="4.9" fill="url(#go4)"/>
<circle cx="1617.6" cy="451.1" r="4.9" fill="url(#go4)"/>
<circle cx="1802.6" cy="490.4" r="4.9" fill="url(#go4)"/>
<circle cx="1624.6" cy="392.7" r="4.9" fill="url(#go4)"/>
<circle cx="1790.3" cy="731.4" r="4.9" fill="url(#gg0)"/>
<circle cx="1583.8" cy="693.9" r="4.9" fill="url(#gg0)"/>
<circle cx="1662.3" cy="803.6" r="4.9" fill="url(#gg0)"/>
<circle cx="1672.1" cy="683.4" r="4.9" fill="url(#gg0)"/>
<circle cx="1604.6" cy="686.5" r="4.9" fill="url(#gg0)"/>
<circle cx="1734.9" cy="817.5" r="4.9" fill="url(#gg0)"/>
<circle cx="1583.5" cy="710.7" r="4.9" fill="url(#gg0)"/>
<circle cx="1574.1" cy="693.2" r="4.9" fill="url(#gg0)"/>
<circle cx="1701.1" cy="696.0" r="4.9" fill="url(#gg0)"/>
<circle cx="1719.1" cy="761.0" r="4.9" fill="url(#gg0)"/>
<circle cx="1633.5" cy="801.4" r="4.9" fill="url(#gg0)"/>
<circle cx="1658.3" cy="845.8" r="4.9" fill="url(#gg0)"/>
<circle cx="1696.4" cy="722.9" r="4.9" fill="url(#gg0)"/>
<circle cx="1697.6" cy="835.4" r="4.9" fill="url(#gg0)"/>
<circle cx="1783.6" cy="735.2" r="4.9" fill="url(#gg0)"/>
<circle cx="1685.8" cy="745.8" r="4.9" fill="url(#gg0)"/>
<circle cx="1810.6" cy="736.5" r="4.9" fill="url(#gg0)"/>
<circle cx="1718.8" cy="767.5" r="4.9" fill="url(#gg0)"/>
<circle cx="1739.8" cy="802.3" r="4.9" fill="url(#gg0)"/>
<circle cx="1708.9" cy="748.6" r="4.9" fill="url(#gg0)"/>
<circle cx="1942.7" cy="610.8" r="4.9" fill="url(#gg0)"/>
<circle cx="1843.1" cy="735.2" r="4.9" fill="url(#gg0)"/>
<circle cx="1911.4" cy="683.4" r="4.9" fill="url(#gg0)"/>
<circle cx="1743.7" cy="767.6" r="4.9" fill="url(#gg0)"/>
<circle cx="1716.1" cy="743.0" r="4.9" fill="url(#gg0)"/>
<circle cx="1842.1" cy="731.9" r="4.9" fill="url(#gg0)"/>
<circle cx="1596.1" cy="718.4" r="4.9" fill="url(#gg0)"/>
<circle cx="1683.1" cy="697.0" r="4.9" fill="url(#gg0)"/>
<circle cx="1644.9" cy="671.8" r="4.9" fill="url(#gg0)"/>
<circle cx="1746.8" cy="801.8" r="4.9" fill="url(#gg0)"/>
<circle cx="1660.0" cy="840.8" r="4.9" fill="url(#gg0)"/>
<circle cx="1859.3" cy="679.9" r="4.9" fill="url(#gg0)"/>
<circle cx="1654.0" cy="829.3" r="4.9" fill="url(#gg0)"/>
<circle cx="1712.8" cy="791.9" r="4.9" fill="url(#gg0)"/>
<circle cx="1925.2" cy="626.6" r="4.9" fill="url(#gg0)"/>
<circle cx="1846.2" cy="724.8" r="4.9" fill="url(#gg0)"/>
<circle cx="1674.8" cy="672.7" r="4.9" fill="url(#gg0)"/>
<circle cx="1595.5" cy="704.0" r="4.9" fill="url(#gg0)"/>
<circle cx="1733.5" cy="803.4" r="4.9" fill="url(#gg0)"/>
<circle cx="1667.5" cy="697.1" r="4.9" fill="url(#gg0)"/>
<circle cx="1726.7" cy="727.3" r="4.9" fill="url(#gg0)"/>
<circle cx="1570.7" cy="694.3" r="4.9" fill="url(#gg0)"/>
<circle cx="1660.4" cy="664.5" r="4.9" fill="url(#gg0)"/>
<circle cx="1754.8" cy="751.8" r="4.9" fill="url(#gg0)"/>
<circle cx="1679.1" cy="674.7" r="4.9" fill="url(#gg0)"/>
<circle cx="1676.0" cy="746.5" r="4.9" fill="url(#gg0)"/>
<circle cx="1737.9" cy="766.4" r="4.9" fill="url(#gg0)"/>
<circle cx="1595.1" cy="678.9" r="4.9" fill="url(#gg0)"/>
<circle cx="1850.8" cy="679.5" r="4.9" fill="url(#gg0)"/>
<circle cx="1861.5" cy="713.2" r="4.9" fill="url(#gg0)"/>
<circle cx="1879.8" cy="675.4" r="4.9" fill="url(#gg0)"/>
<circle cx="1586.7" cy="694.5" r="4.9" fill="url(#gg0)"/>
<circle cx="1882.3" cy="675.4" r="4.9" fill="url(#gg0)"/>
<circle cx="1743.4" cy="773.7" r="4.9" fill="url(#gg0)"/>
<circle cx="1892.5" cy="694.1" r="4.9" fill="url(#gg0)"/>
<circle cx="1634.7" cy="692.8" r="4.9" fill="url(#gg0)"/>
<circle cx="1614.7" cy="679.1" r="4.9" fill="url(#gg0)"/>
<circle cx="1697.8" cy="695.9" r="4.9" fill="url(#gg0)"/>
<circle cx="1721.1" cy="731.2" r="4.9" fill="url(#gg0)"/>
<circle cx="1904.9" cy="660.4" r="4.9" fill="url(#gg0)"/>
<circle cx="1811.9" cy="753.4" r="4.9" fill="url(#gg0)"/>
<circle cx="1676.2" cy="791.8" r="4.9" fill="url(#gg0)"/>
<circle cx="1663.6" cy="850.0" r="4.9" fill="url(#gg0)"/>
<circle cx="1665.1" cy="848.0" r="4.9" fill="url(#gg0)"/>
<circle cx="1586.9" cy="709.2" r="4.9" fill="url(#gg0)"/>
<circle cx="1580.1" cy="698.9" r="4.9" fill="url(#gg0)"/>
<circle cx="1705.4" cy="828.6" r="4.9" fill="url(#gg0)"/>
<circle cx="1724.0" cy="802.1" r="4.9" fill="url(#gg0)"/>
<circle cx="1670.9" cy="792.8" r="4.9" fill="url(#gg0)"/>
<circle cx="1702.1" cy="754.8" r="4.9" fill="url(#gg0)"/>
<circle cx="1608.6" cy="671.7" r="4.9" fill="url(#gg0)"/>
<circle cx="1879.5" cy="662.5" r="4.9" fill="url(#gg0)"/>
<circle cx="1688.8" cy="826.6" r="4.9" fill="url(#gg0)"/>
<circle cx="1712.0" cy="789.6" r="4.9" fill="url(#gg0)"/>
<circle cx="1862.7" cy="676.5" r="4.9" fill="url(#gg0)"/>
<circle cx="1710.2" cy="768.6" r="4.9" fill="url(#gg0)"/>
<circle cx="1690.9" cy="831.2" r="4.9" fill="url(#gg0)"/>
<circle cx="1709.4" cy="827.2" r="4.9" fill="url(#gg0)"/>
<circle cx="1693.0" cy="698.8" r="4.9" fill="url(#gg0)"/>
<circle cx="1736.4" cy="802.1" r="4.9" fill="url(#gg0)"/>
<circle cx="1741.5" cy="823.4" r="4.9" fill="url(#gg0)"/>
<circle cx="1616.6" cy="703.6" r="4.9" fill="url(#gg0)"/>
<circle cx="1838.3" cy="710.4" r="4.9" fill="url(#gg0)"/>
<circle cx="1894.4" cy="699.5" r="4.9" fill="url(#gg0)"/>
<circle cx="1722.5" cy="793.3" r="4.9" fill="url(#gg0)"/>
<circle cx="1812.3" cy="719.0" r="4.9" fill="url(#gg0)"/>
<circle cx="1615.3" cy="709.4" r="4.9" fill="url(#gg0)"/>
<circle cx="1831.5" cy="715.3" r="4.9" fill="url(#gg0)"/>
<circle cx="1599.1" cy="692.5" r="4.9" fill="url(#gg0)"/>
<circle cx="1874.9" cy="702.1" r="4.9" fill="url(#gg0)"/>
<circle cx="1830.1" cy="749.4" r="4.9" fill="url(#gg1)"/>
<circle cx="1681.6" cy="681.4" r="4.9" fill="url(#gg1)"/>
<circle cx="1702.9" cy="702.2" r="4.9" fill="url(#gg1)"/>
<circle cx="1594.2" cy="686.9" r="4.9" fill="url(#gg1)"/>
<circle cx="1728.3" cy="749.3" r="4.9" fill="url(#gg1)"/>
<circle cx="1646.7" cy="844.2" r="4.9" fill="url(#gg1)"/>
<circle cx="1738.3" cy="770.0" r="4.9" fill="url(#gg1)"/>
<circle cx="1652.1" cy="677.1" r="4.9" fill="url(#gg1)"/>
<circle cx="1674.6" cy="794.3" r="4.9" fill="url(#gg1)"/>
<circle cx="1682.9" cy="675.7" r="4.9" fill="url(#gg1)"/>
<circle cx="1767.9" cy="732.5" r="4.9" fill="url(#gg1)"/>
<circle cx="1840.0" cy="747.9" r="4.9" fill="url(#gg1)"/>
<circle cx="1738.7" cy="761.8" r="4.9" fill="url(#gg1)"/>
<circle cx="1731.9" cy="765.6" r="4.9" fill="url(#gg1)"/>
<circle cx="1855.8" cy="733.3" r="4.9" fill="url(#gg1)"/>
<circle cx="1720.3" cy="801.2" r="4.9" fill="url(#gg1)"/>
<circle cx="1864.6" cy="722.1" r="4.9" fill="url(#gg1)"/>
<circle cx="1690.0" cy="795.1" r="4.9" fill="url(#gg1)"/>
<circle cx="1740.8" cy="739.5" r="4.9" fill="url(#gg1)"/>
<circle cx="1639.5" cy="676.9" r="4.9" fill="url(#gg1)"/>
<circle cx="1622.2" cy="682.4" r="4.9" fill="url(#gg1)"/>
<circle cx="1606.5" cy="677.4" r="4.9" fill="url(#gg1)"/>
<circle cx="1804.5" cy="731.0" r="4.9" fill="url(#gg1)"/>
<circle cx="1681.1" cy="757.0" r="4.9" fill="url(#gg1)"/>
<circle cx="1936.6" cy="629.9" r="4.9" fill="url(#gg1)"/>
<circle cx="1750.3" cy="762.0" r="4.9" fill="url(#gg1)"/>
<circle cx="1918.0" cy="621.4" r="4.9" fill="url(#gg1)"/>
<circle cx="1744.0" cy="757.8" r="4.9" fill="url(#gg1)"/>
<circle cx="1715.2" cy="793.3" r="4.9" fill="url(#gg1)"/>
<circle cx="1843.6" cy="724.2" r="4.9" fill="url(#gg1)"/>
<circle cx="1631.2" cy="678.1" r="4.9" fill="url(#gg1)"/>
<circle cx="1674.7" cy="822.6" r="4.9" fill="url(#gg1)"/>
<circle cx="1696.8" cy="827.8" r="4.9" fill="url(#gg1)"/>
<circle cx="1709.7" cy="693.2" r="4.9" fill="url(#gg1)"/>
<circle cx="1923.1" cy="653.2" r="4.9" fill="url(#gg1)"/>
<circle cx="1685.4" cy="732.9" r="4.9" fill="url(#gg1)"/>
<circle cx="1737.6" cy="758.5" r="4.9" fill="url(#gg1)"/>
<circle cx="1917.1" cy="649.0" r="4.9" fill="url(#gg1)"/>
<circle cx="1895.6" cy="679.7" r="4.9" fill="url(#gg1)"/>
<circle cx="1658.0" cy="673.5" r="4.9" fill="url(#gg1)"/>
<circle cx="1772.2" cy="734.8" r="4.9" fill="url(#gg1)"/>
<circle cx="1689.2" cy="733.0" r="4.9" fill="url(#gg1)"/>
<circle cx="1839.1" cy="736.4" r="4.9" fill="url(#gg1)"/>
<circle cx="1581.8" cy="684.8" r="4.9" fill="url(#gg1)"/>
<circle cx="1682.9" cy="754.1" r="4.9" fill="url(#gg1)"/>
<circle cx="1929.0" cy="651.6" r="4.9" fill="url(#gg1)"/>
<circle cx="1693.3" cy="680.0" r="4.9" fill="url(#gg1)"/>
<circle cx="1688.3" cy="697.2" r="4.9" fill="url(#gg1)"/>
<circle cx="1894.0" cy="687.2" r="4.9" fill="url(#gg1)"/>
<circle cx="1830.4" cy="719.1" r="4.9" fill="url(#gg1)"/>
<circle cx="1909.2" cy="660.6" r="4.9" fill="url(#gg1)"/>
<circle cx="1575.8" cy="690.4" r="4.9" fill="url(#gg1)"/>
<circle cx="1840.9" cy="738.4" r="4.9" fill="url(#gg1)"/>
<circle cx="1636.4" cy="814.2" r="4.9" fill="url(#gg1)"/>
<circle cx="1840.4" cy="709.1" r="4.9" fill="url(#gg1)"/>
<circle cx="1736.3" cy="738.3" r="4.9" fill="url(#gg1)"/>
<circle cx="1729.5" cy="781.3" r="4.9" fill="url(#gg1)"/>
<circle cx="1644.8" cy="828.1" r="4.9" fill="url(#gg1)"/>
<circle cx="1649.1" cy="828.2" r="4.9" fill="url(#gg1)"/>
<circle cx="1672.9" cy="841.5" r="4.9" fill="url(#gg1)"/>
<circle cx="1705.5" cy="767.1" r="4.9" fill="url(#gg1)"/>
<circle cx="1731.1" cy="751.1" r="4.9" fill="url(#gg1)"/>
<circle cx="1751.6" cy="773.6" r="4.9" fill="url(#gg1)"/>
<circle cx="1671.4" cy="754.5" r="4.9" fill="url(#gg1)"/>
<circle cx="1679.3" cy="753.5" r="4.9" fill="url(#gg1)"/>
<circle cx="1683.3" cy="762.2" r="4.9" fill="url(#gg1)"/>
<circle cx="1888.7" cy="685.9" r="4.9" fill="url(#gg1)"/>
<circle cx="1714.1" cy="755.2" r="4.9" fill="url(#gg1)"/>
<circle cx="1835.9" cy="751.0" r="4.9" fill="url(#gg1)"/>
<circle cx="1926.1" cy="648.3" r="4.9" fill="url(#gg1)"/>
<circle cx="1853.2" cy="690.3" r="4.9" fill="url(#gg1)"/>
<circle cx="1640.5" cy="674.4" r="4.9" fill="url(#gg1)"/>
<circle cx="1718.4" cy="791.1" r="4.9" fill="url(#gg1)"/>
<circle cx="1608.1" cy="697.7" r="4.9" fill="url(#gg1)"/>
<circle cx="1741.9" cy="779.7" r="4.9" fill="url(#gg1)"/>
<circle cx="1641.5" cy="827.6" r="4.9" fill="url(#gg1)"/>
<circle cx="1727.8" cy="831.1" r="4.9" fill="url(#gg1)"/>
<circle cx="1867.3" cy="680.7" r="4.9" fill="url(#gg1)"/>
<circle cx="1709.1" cy="772.6" r="4.9" fill="url(#gg1)"/>
<circle cx="1725.4" cy="778.8" r="4.9" fill="url(#gg1)"/>
<circle cx="1685.8" cy="740.9" r="4.9" fill="url(#gg1)"/>
<circle cx="1919.5" cy="677.1" r="4.9" fill="url(#gg1)"/>
<circle cx="1686.5" cy="813.3" r="4.9" fill="url(#gg1)"/>
<circle cx="1760.7" cy="741.3" r="4.9" fill="url(#gg1)"/>
<circle cx="1744.8" cy="804.9" r="4.9" fill="url(#gg1)"/>
<circle cx="1706.9" cy="786.0" r="4.9" fill="url(#gg1)"/>
<circle cx="1696.4" cy="732.0" r="4.9" fill="url(#gg1)"/>
<circle cx="1695.1" cy="848.0" r="4.9" fill="url(#gg1)"/>
<circle cx="1872.2" cy="702.7" r="4.9" fill="url(#gg1)"/>
<circle cx="1925.5" cy="641.2" r="4.9" fill="url(#gg1)"/>
<circle cx="1646.0" cy="678.0" r="4.9" fill="url(#gg1)"/>
<circle cx="1631.3" cy="688.0" r="4.9" fill="url(#gg1)"/>
<circle cx="1637.5" cy="691.0" r="4.9" fill="url(#gg1)"/>
<circle cx="1752.9" cy="766.7" r="4.9" fill="url(#gg1)"/>
<circle cx="1715.6" cy="768.2" r="4.9" fill="url(#gg1)"/>
<circle cx="1833.1" cy="728.1" r="4.9" fill="url(#gg1)"/>
<circle cx="1621.9" cy="688.2" r="4.9" fill="url(#gg1)"/>
<circle cx="1738.9" cy="812.8" r="4.9" fill="url(#gg1)"/>
<circle cx="1912.4" cy="639.1" r="4.9" fill="url(#gg1)"/>
<circle cx="1635.0" cy="844.4" r="4.9" fill="url(#gg1)"/>
<circle cx="1691.2" cy="704.7" r="4.9" fill="url(#gg1)"/>
<circle cx="1645.6" cy="859.9" r="4.9" fill="url(#gg1)"/>
<circle cx="1678.4" cy="698.1" r="4.9" fill="url(#gg1)"/>
<circle cx="1698.5" cy="728.8" r="4.9" fill="url(#gg1)"/>
<circle cx="1712.4" cy="757.7" r="4.9" fill="url(#gg1)"/>
<circle cx="1620.1" cy="696.8" r="4.9" fill="url(#gg1)"/>
<circle cx="1819.9" cy="751.1" r="4.9" fill="url(#gg2)"/>
<circle cx="1744.3" cy="741.6" r="4.9" fill="url(#gg2)"/>
<circle cx="1920.8" cy="669.6" r="4.9" fill="url(#gg2)"/>
<circle cx="1697.1" cy="844.5" r="4.9" fill="url(#gg2)"/>
<circle cx="1678.9" cy="811.5" r="4.9" fill="url(#gg2)"/>
<circle cx="1724.6" cy="828.0" r="4.9" fill="url(#gg2)"/>
<circle cx="1653.8" cy="807.7" r="4.9" fill="url(#gg2)"/>
<circle cx="1687.1" cy="819.1" r="4.9" fill="url(#gg2)"/>
<circle cx="1740.1" cy="829.8" r="4.9" fill="url(#gg2)"/>
<circle cx="1694.9" cy="799.6" r="4.9" fill="url(#gg2)"/>
<circle cx="1914.0" cy="676.4" r="4.9" fill="url(#gg2)"/>
<circle cx="1689.8" cy="707.5" r="4.9" fill="url(#gg2)"/>
<circle cx="1728.6" cy="789.0" r="4.9" fill="url(#gg2)"/>
<circle cx="1689.2" cy="823.5" r="4.9" fill="url(#gg2)"/>
<circle cx="1686.1" cy="793.6" r="4.9" fill="url(#gg2)"/>
<circle cx="1701.2" cy="750.3" r="4.9" fill="url(#gg2)"/>
<circle cx="1798.3" cy="729.6" r="4.9" fill="url(#gg2)"/>
<circle cx="1909.4" cy="681.5" r="4.9" fill="url(#gg2)"/>
<circle cx="1687.6" cy="729.3" r="4.9" fill="url(#gg2)"/>
<circle cx="1672.5" cy="804.7" r="4.9" fill="url(#gg2)"/>
<circle cx="1697.0" cy="777.0" r="4.9" fill="url(#gg2)"/>
<circle cx="1677.1" cy="671.8" r="4.9" fill="url(#gg2)"/>
<circle cx="1662.0" cy="668.0" r="4.9" fill="url(#gg2)"/>
<circle cx="1705.7" cy="771.4" r="4.9" fill="url(#gg2)"/>
<circle cx="1876.0" cy="677.8" r="4.9" fill="url(#gg2)"/>
<circle cx="1741.1" cy="736.9" r="4.9" fill="url(#gg2)"/>
<circle cx="1686.6" cy="673.6" r="4.9" fill="url(#gg2)"/>
<circle cx="1904.5" cy="687.6" r="4.9" fill="url(#gg2)"/>
<circle cx="1645.0" cy="791.6" r="4.9" fill="url(#gg2)"/>
<circle cx="1867.1" cy="724.2" r="4.9" fill="url(#gg2)"/>
<circle cx="1658.1" cy="669.6" r="4.9" fill="url(#gg2)"/>
<circle cx="1889.3" cy="683.0" r="4.9" fill="url(#gg2)"/>
<circle cx="1642.3" cy="823.7" r="4.9" fill="url(#gg2)"/>
<circle cx="1663.7" cy="845.5" r="4.9" fill="url(#gg2)"/>
<circle cx="1720.5" cy="788.3" r="4.9" fill="url(#gg2)"/>
<circle cx="1926.1" cy="644.1" r="4.9" fill="url(#gg2)"/>
<circle cx="1662.2" cy="852.2" r="4.9" fill="url(#gg2)"/>
<circle cx="1605.0" cy="711.7" r="4.9" fill="url(#gg2)"/>
<circle cx="1909.3" cy="651.1" r="4.9" fill="url(#gg2)"/>
<circle cx="1697.9" cy="710.3" r="4.9" fill="url(#gg2)"/>
<circle cx="1816.7" cy="742.0" r="4.9" fill="url(#gg2)"/>
<circle cx="1644.4" cy="852.3" r="4.9" fill="url(#gg2)"/>
<circle cx="1689.8" cy="747.9" r="4.9" fill="url(#gg2)"/>
<circle cx="1582.5" cy="706.6" r="4.9" fill="url(#gg2)"/>
<circle cx="1772.6" cy="745.4" r="4.9" fill="url(#gg2)"/>
<circle cx="1889.4" cy="694.1" r="4.9" fill="url(#gg2)"/>
<circle cx="1855.1" cy="679.5" r="4.9" fill="url(#gg2)"/>
<circle cx="1701.1" cy="777.7" r="4.9" fill="url(#gg2)"/>
<circle cx="1697.8" cy="714.1" r="4.9" fill="url(#gg2)"/>
<circle cx="1669.9" cy="762.1" r="4.9" fill="url(#gg2)"/>
<circle cx="1892.2" cy="689.8" r="4.9" fill="url(#gg2)"/>
<circle cx="1633.8" cy="814.1" r="4.9" fill="url(#gg2)"/>
<circle cx="1855.9" cy="684.6" r="4.9" fill="url(#gg2)"/>
<circle cx="1861.4" cy="710.6" r="4.9" fill="url(#gg2)"/>
<circle cx="1668.2" cy="769.7" r="4.9" fill="url(#gg2)"/>
<circle cx="1692.3" cy="800.3" r="4.9" fill="url(#gg2)"/>
<circle cx="1679.4" cy="788.5" r="4.9" fill="url(#gg2)"/>
<circle cx="1704.6" cy="760.3" r="4.9" fill="url(#gg2)"/>
<circle cx="1636.3" cy="683.9" r="4.9" fill="url(#gg2)"/>
<circle cx="1915.0" cy="635.6" r="4.9" fill="url(#gg2)"/>
<circle cx="1666.1" cy="762.1" r="4.9" fill="url(#gg2)"/>
<circle cx="1617.3" cy="688.6" r="4.9" fill="url(#gg2)"/>
<circle cx="1589.2" cy="703.3" r="4.9" fill="url(#gg2)"/>
<circle cx="1732.2" cy="755.0" r="4.9" fill="url(#gg2)"/>
<circle cx="1884.0" cy="656.5" r="4.9" fill="url(#gg2)"/>
<circle cx="1922.2" cy="677.5" r="4.9" fill="url(#gg2)"/>
<circle cx="1606.3" cy="705.8" r="4.9" fill="url(#gg2)"/>
<circle cx="1682.4" cy="816.1" r="4.9" fill="url(#gg2)"/>
<circle cx="1615.8" cy="683.6" r="4.9" fill="url(#gg2)"/>
<circle cx="1741.8" cy="810.3" r="4.9" fill="url(#gg2)"/>
<circle cx="1686.5" cy="821.5" r="4.9" fill="url(#gg2)"/>
<circle cx="1604.0" cy="676.8" r="4.9" fill="url(#gg2)"/>
<circle cx="1685.1" cy="699.4" r="4.9" fill="url(#gg2)"/>
<circle cx="1675.2" cy="804.4" r="4.9" fill="url(#gg2)"/>
<circle cx="1930.7" cy="657.5" r="4.9" fill="url(#gg2)"/>
<circle cx="1667.8" cy="764.6" r="4.9" fill="url(#gg2)"/>
<circle cx="1672.9" cy="835.0" r="4.9" fill="url(#gg2)"/>
<circle cx="1722.6" cy="806.9" r="4.9" fill="url(#gg2)"/>
<circle cx="1612.3" cy="701.5" r="4.9" fill="url(#gg2)"/>
<circle cx="1678.1" cy="767.2" r="4.9" fill="url(#gg2)"/>
<circle cx="1717.2" cy="841.5" r="4.9" fill="url(#gg2)"/>
<circle cx="1912.5" cy="652.9" r="4.9" fill="url(#gg2)"/>
<circle cx="1769.3" cy="749.0" r="4.9" fill="url(#gg2)"/>
<circle cx="1859.3" cy="715.1" r="4.9" fill="url(#gg2)"/>
<circle cx="1608.3" cy="695.2" r="4.9" fill="url(#gg2)"/>
<circle cx="1875.4" cy="674.1" r="4.9" fill="url(#gg2)"/>
<circle cx="1679.4" cy="795.7" r="4.9" fill="url(#gg2)"/>
<circle cx="1636.6" cy="822.8" r="4.9" fill="url(#gg2)"/>
<circle cx="1594.6" cy="692.5" r="4.9" fill="url(#gg2)"/>
<circle cx="1905.5" cy="677.7" r="4.9" fill="url(#gg2)"/>
<circle cx="1886.4" cy="660.8" r="4.9" fill="url(#gg2)"/>
<circle cx="1899.7" cy="634.3" r="4.9" fill="url(#gg2)"/>
<circle cx="1884.0" cy="665.6" r="4.9" fill="url(#gg2)"/>
<circle cx="1686.3" cy="804.2" r="4.9" fill="url(#gg2)"/>
<circle cx="1929.6" cy="628.3" r="4.9" fill="url(#gg2)"/>
<circle cx="1693.6" cy="845.2" r="4.9" fill="url(#gg2)"/>
<circle cx="1813.1" cy="750.1" r="4.9" fill="url(#gg2)"/>
<circle cx="1656.1" cy="838.9" r="4.9" fill="url(#gg2)"/>
<circle cx="1680.8" cy="669.6" r="4.9" fill="url(#gg2)"/>
<circle cx="1621.5" cy="679.9" r="4.9" fill="url(#gg2)"/>
<circle cx="1708.7" cy="759.4" r="4.9" fill="url(#gg2)"/>
<circle cx="1654.1" cy="841.5" r="4.9" fill="url(#gg2)"/>
<circle cx="1774.1" cy="737.6" r="4.9" fill="url(#gg2)"/>
<circle cx="1592.6" cy="690.6" r="4.9" fill="url(#gg2)"/>
<circle cx="1818.7" cy="728.3" r="4.9" fill="url(#gg2)"/>
<circle cx="1711.5" cy="701.2" r="4.9" fill="url(#gg2)"/>
<circle cx="1702.6" cy="774.1" r="4.9" fill="url(#gg2)"/>
<circle cx="1898.9" cy="689.9" r="4.9" fill="url(#gg2)"/>
<circle cx="1679.0" cy="736.9" r="4.9" fill="url(#gg2)"/>
<circle cx="1755.3" cy="746.2" r="4.9" fill="url(#gg3)"/>
<circle cx="1823.2" cy="743.0" r="4.9" fill="url(#gg3)"/>
<circle cx="1871.2" cy="678.3" r="4.9" fill="url(#gg3)"/>
<circle cx="1653.9" cy="826.4" r="4.9" fill="url(#gg3)"/>
<circle cx="1815.9" cy="756.3" r="4.9" fill="url(#gg3)"/>
<circle cx="1936.1" cy="633.0" r="4.9" fill="url(#gg3)"/>
<circle cx="1868.9" cy="703.7" r="4.9" fill="url(#gg3)"/>
<circle cx="1685.0" cy="683.7" r="4.9" fill="url(#gg3)"/>
<circle cx="1690.0" cy="673.6" r="4.9" fill="url(#gg3)"/>
<circle cx="1651.7" cy="843.2" r="4.9" fill="url(#gg3)"/>
<circle cx="1665.1" cy="803.7" r="4.9" fill="url(#gg3)"/>
<circle cx="1855.1" cy="723.4" r="4.9" fill="url(#gg3)"/>
<circle cx="1723.4" cy="798.2" r="4.9" fill="url(#gg3)"/>
<circle cx="1693.8" cy="775.2" r="4.9" fill="url(#gg3)"/>
<circle cx="1921.5" cy="620.1" r="4.9" fill="url(#gg3)"/>
<circle cx="1865.0" cy="681.8" r="4.9" fill="url(#gg3)"/>
<circle cx="1832.4" cy="739.2" r="4.9" fill="url(#gg3)"/>
<circle cx="1730.5" cy="771.1" r="4.9" fill="url(#gg3)"/>
<circle cx="1737.7" cy="792.4" r="4.9" fill="url(#gg3)"/>
<circle cx="1774.9" cy="743.0" r="4.9" fill="url(#gg3)"/>
<circle cx="1742.1" cy="804.0" r="4.9" fill="url(#gg3)"/>
<circle cx="1637.9" cy="806.1" r="4.9" fill="url(#gg3)"/>
<circle cx="1715.3" cy="771.1" r="4.9" fill="url(#gg3)"/>
<circle cx="1643.0" cy="678.0" r="4.9" fill="url(#gg3)"/>
<circle cx="1839.6" cy="725.0" r="4.9" fill="url(#gg3)"/>
<circle cx="1727.7" cy="753.1" r="4.9" fill="url(#gg3)"/>
<circle cx="1661.0" cy="806.6" r="4.9" fill="url(#gg3)"/>
<circle cx="1673.1" cy="746.0" r="4.9" fill="url(#gg3)"/>
<circle cx="1600.2" cy="725.2" r="4.9" fill="url(#gg3)"/>
<circle cx="1644.2" cy="845.4" r="4.9" fill="url(#gg3)"/>
<circle cx="1666.1" cy="672.0" r="4.9" fill="url(#gg3)"/>
<circle cx="1863.9" cy="708.2" r="4.9" fill="url(#gg3)"/>
<circle cx="1732.8" cy="783.9" r="4.9" fill="url(#gg3)"/>
<circle cx="1679.4" cy="808.7" r="4.9" fill="url(#gg3)"/>
<circle cx="1858.2" cy="682.8" r="4.9" fill="url(#gg3)"/>
<circle cx="1934.8" cy="628.0" r="4.9" fill="url(#gg3)"/>
<circle cx="1647.9" cy="805.2" r="4.9" fill="url(#gg3)"/>
<circle cx="1610.8" cy="720.6" r="4.9" fill="url(#gg3)"/>
<circle cx="1599.1" cy="714.7" r="4.9" fill="url(#gg3)"/>
<circle cx="1817.6" cy="738.7" r="4.9" fill="url(#gg3)"/>
<circle cx="1607.5" cy="715.4" r="4.9" fill="url(#gg3)"/>
<circle cx="1835.7" cy="738.1" r="4.9" fill="url(#gg3)"/>
<circle cx="1670.9" cy="702.8" r="4.9" fill="url(#gg3)"/>
<circle cx="1681.0" cy="699.6" r="4.9" fill="url(#gg3)"/>
<circle cx="1678.4" cy="731.0" r="4.9" fill="url(#gg3)"/>
<circle cx="1697.4" cy="832.1" r="4.9" fill="url(#gg3)"/>
<circle cx="1590.0" cy="705.9" r="4.9" fill="url(#gg3)"/>
<circle cx="1706.3" cy="745.9" r="4.9" fill="url(#gg3)"/>
<circle cx="1889.1" cy="689.1" r="4.9" fill="url(#gg3)"/>
<circle cx="1638.7" cy="681.4" r="4.9" fill="url(#gg3)"/>
<circle cx="1808.9" cy="726.4" r="4.9" fill="url(#gg3)"/>
<circle cx="1694.9" cy="791.1" r="4.9" fill="url(#gg3)"/>
<circle cx="1810.6" cy="722.8" r="4.9" fill="url(#gg3)"/>
<circle cx="1809.0" cy="729.9" r="4.9" fill="url(#gg3)"/>
<circle cx="1737.4" cy="778.6" r="4.9" fill="url(#gg3)"/>
<circle cx="1743.3" cy="813.2" r="4.9" fill="url(#gg3)"/>
<circle cx="1677.3" cy="801.8" r="4.9" fill="url(#gg3)"/>
<circle cx="1676.3" cy="706.3" r="4.9" fill="url(#gg3)"/>
<circle cx="1922.4" cy="655.9" r="4.9" fill="url(#gg3)"/>
<circle cx="1777.2" cy="739.9" r="4.9" fill="url(#gg3)"/>
<circle cx="1647.7" cy="682.9" r="4.9" fill="url(#gg3)"/>
<circle cx="1912.9" cy="681.3" r="4.9" fill="url(#gg3)"/>
<circle cx="1792.2" cy="723.5" r="4.9" fill="url(#gg3)"/>
<circle cx="1677.4" cy="819.3" r="4.9" fill="url(#gg3)"/>
<circle cx="1737.3" cy="797.6" r="4.9" fill="url(#gg3)"/>
<circle cx="1787.8" cy="746.8" r="4.9" fill="url(#gg3)"/>
<circle cx="1627.5" cy="677.9" r="4.9" fill="url(#gg3)"/>
<circle cx="1731.8" cy="745.2" r="4.9" fill="url(#gg3)"/>
<circle cx="1791.8" cy="727.6" r="4.9" fill="url(#gg3)"/>
<circle cx="1891.8" cy="681.2" r="4.9" fill="url(#gg3)"/>
<circle cx="1713.0" cy="739.3" r="4.9" fill="url(#gg3)"/>
<circle cx="1655.1" cy="669.7" r="4.9" fill="url(#gg3)"/>
<circle cx="1899.1" cy="683.8" r="4.9" fill="url(#gg3)"/>
<circle cx="1692.3" cy="723.1" r="4.9" fill="url(#gg3)"/>
<circle cx="1720.2" cy="835.8" r="4.9" fill="url(#gg3)"/>
<circle cx="1679.6" cy="748.5" r="4.9" fill="url(#gg3)"/>
<circle cx="1851.4" cy="676.0" r="4.9" fill="url(#gg3)"/>
<circle cx="1787.7" cy="736.9" r="4.9" fill="url(#gg3)"/>
<circle cx="1730.8" cy="758.0" r="4.9" fill="url(#gg3)"/>
<circle cx="1735.9" cy="820.7" r="4.9" fill="url(#gg3)"/>
<circle cx="1673.2" cy="675.9" r="4.9" fill="url(#gg3)"/>
<circle cx="1672.8" cy="680.6" r="4.9" fill="url(#gg3)"/>
<circle cx="1569.6" cy="698.8" r="4.9" fill="url(#gg3)"/>
<circle cx="1668.8" cy="685.1" r="4.9" fill="url(#gg3)"/>
<circle cx="1598.6" cy="710.2" r="4.9" fill="url(#gg3)"/>
<circle cx="1857.0" cy="688.0" r="4.9" fill="url(#gg3)"/>
<circle cx="1694.9" cy="837.0" r="4.9" fill="url(#gg3)"/>
<circle cx="1648.7" cy="666.5" r="4.9" fill="url(#gg3)"/>
<circle cx="1663.3" cy="665.8" r="4.9" fill="url(#gg3)"/>
<circle cx="1668.2" cy="675.0" r="4.9" fill="url(#gg3)"/>
<circle cx="1884.7" cy="681.2" r="4.9" fill="url(#gg3)"/>
<circle cx="1579.3" cy="687.6" r="4.9" fill="url(#gg3)"/>
<circle cx="1684.0" cy="747.7" r="4.9" fill="url(#gg3)"/>
<circle cx="1682.5" cy="789.3" r="4.9" fill="url(#gg3)"/>
<circle cx="1766.9" cy="737.9" r="4.9" fill="url(#gg3)"/>
<circle cx="1822.9" cy="750.8" r="4.9" fill="url(#gg3)"/>
<circle cx="1818.4" cy="746.8" r="4.9" fill="url(#gg3)"/>
<circle cx="1757.4" cy="770.5" r="4.9" fill="url(#gg3)"/>
<circle cx="1923.5" cy="637.3" r="4.9" fill="url(#gg3)"/>
<circle cx="1858.4" cy="721.7" r="4.9" fill="url(#gg3)"/>
<circle cx="1650.7" cy="835.2" r="4.9" fill="url(#gg3)"/>
<circle cx="1681.9" cy="792.1" r="4.9" fill="url(#gg4)"/>
<circle cx="1720.7" cy="830.8" r="4.9" fill="url(#gg4)"/>
<circle cx="1598.3" cy="731.9" r="4.9" fill="url(#gg4)"/>
<circle cx="1661.7" cy="672.0" r="4.9" fill="url(#gg4)"/>
<circle cx="1758.7" cy="744.6" r="4.9" fill="url(#gg4)"/>
<circle cx="1607.4" cy="723.9" r="4.9" fill="url(#gg4)"/>
<circle cx="1669.4" cy="749.5" r="4.9" fill="url(#gg4)"/>
<circle cx="1693.5" cy="764.3" r="4.9" fill="url(#gg4)"/>
<circle cx="1601.7" cy="735.8" r="4.9" fill="url(#gg4)"/>
<circle cx="1681.4" cy="735.7" r="4.9" fill="url(#gg4)"/>
<circle cx="1694.9" cy="727.7" r="4.9" fill="url(#gg4)"/>
<circle cx="1620.8" cy="677.2" r="4.9" fill="url(#gg4)"/>
<circle cx="1825.0" cy="735.7" r="4.9" fill="url(#gg4)"/>
<circle cx="1732.9" cy="798.5" r="4.9" fill="url(#gg4)"/>
<circle cx="1937.1" cy="618.0" r="4.9" fill="url(#gg4)"/>
<circle cx="1722.7" cy="752.8" r="4.9" fill="url(#gg4)"/>
<circle cx="1593.0" cy="704.9" r="4.9" fill="url(#gg4)"/>
<circle cx="1684.1" cy="728.1" r="4.9" fill="url(#gg4)"/>
<circle cx="1738.4" cy="826.5" r="4.9" fill="url(#gg4)"/>
<circle cx="1602.4" cy="740.6" r="4.9" fill="url(#gg4)"/>
<circle cx="1586.4" cy="690.7" r="4.9" fill="url(#gg4)"/>
<circle cx="1735.3" cy="732.5" r="4.9" fill="url(#gg4)"/>
<circle cx="1895.9" cy="695.7" r="4.9" fill="url(#gg4)"/>
<circle cx="1736.0" cy="788.9" r="4.9" fill="url(#gg4)"/>
<circle cx="1675.5" cy="725.2" r="4.9" fill="url(#gg4)"/>
<circle cx="1915.3" cy="621.3" r="4.9" fill="url(#gg4)"/>
<circle cx="1788.8" cy="726.2" r="4.9" fill="url(#gg4)"/>
<circle cx="1686.0" cy="797.9" r="4.9" fill="url(#gg4)"/>
<circle cx="1922.8" cy="624.1" r="4.9" fill="url(#gg4)"/>
<circle cx="1624.4" cy="670.9" r="4.9" fill="url(#gg4)"/>
<circle cx="1652.1" cy="837.6" r="4.9" fill="url(#gg4)"/>
<circle cx="1938.5" cy="613.9" r="4.9" fill="url(#gg4)"/>
<circle cx="1851.8" cy="724.9" r="4.9" fill="url(#gg4)"/>
<circle cx="1693.1" cy="779.0" r="4.9" fill="url(#gg4)"/>
<circle cx="1671.7" cy="670.1" r="4.9" fill="url(#gg4)"/>
<circle cx="1617.6" cy="711.1" r="4.9" fill="url(#gg4)"/>
<circle cx="1779.6" cy="737.5" r="4.9" fill="url(#gg4)"/>
<circle cx="1609.9" cy="676.9" r="4.9" fill="url(#gg4)"/>
<circle cx="1746.9" cy="758.1" r="4.9" fill="url(#gg4)"/>
<circle cx="1591.7" cy="694.1" r="4.9" fill="url(#gg4)"/>
<circle cx="1658.7" cy="802.5" r="4.9" fill="url(#gg4)"/>
<circle cx="1621.8" cy="706.0" r="4.9" fill="url(#gg4)"/>
<circle cx="1889.4" cy="665.2" r="4.9" fill="url(#gg4)"/>
<circle cx="1595.5" cy="675.0" r="4.9" fill="url(#gg4)"/>
<circle cx="1681.2" cy="804.9" r="4.9" fill="url(#gg4)"/>
<circle cx="1613.1" cy="684.0" r="4.9" fill="url(#gg4)"/>
<circle cx="1594.9" cy="711.9" r="4.9" fill="url(#gg4)"/>
<circle cx="1671.3" cy="692.9" r="4.9" fill="url(#gg4)"/>
<circle cx="1689.7" cy="693.3" r="4.9" fill="url(#gg4)"/>
<circle cx="1710.4" cy="743.1" r="4.9" fill="url(#gg4)"/>
<circle cx="1910.0" cy="687.9" r="4.9" fill="url(#gg4)"/>
<circle cx="1834.2" cy="748.9" r="4.9" fill="url(#gg4)"/>
<circle cx="1732.2" cy="728.6" r="4.9" fill="url(#gg4)"/>
<circle cx="1701.6" cy="831.6" r="4.9" fill="url(#gg4)"/>
<circle cx="1840.0" cy="743.0" r="4.9" fill="url(#gg4)"/>
<circle cx="1856.7" cy="694.2" r="4.9" fill="url(#gg4)"/>
<circle cx="1721.1" cy="755.1" r="4.9" fill="url(#gg4)"/>
<circle cx="1705.3" cy="693.7" r="4.9" fill="url(#gg4)"/>
<circle cx="1673.0" cy="742.6" r="4.9" fill="url(#gg4)"/>
<circle cx="1687.6" cy="686.1" r="4.9" fill="url(#gg4)"/>
<circle cx="1639.2" cy="824.3" r="4.9" fill="url(#gg4)"/>
<circle cx="1836.2" cy="730.5" r="4.9" fill="url(#gg4)"/>
<circle cx="1609.1" cy="707.4" r="4.9" fill="url(#gg4)"/>
<circle cx="1825.3" cy="740.6" r="4.9" fill="url(#gg4)"/>
<circle cx="1673.3" cy="837.6" r="4.9" fill="url(#gg4)"/>
<circle cx="1708.2" cy="695.4" r="4.9" fill="url(#gg4)"/>
<circle cx="1741.6" cy="798.0" r="4.9" fill="url(#gg4)"/>
<circle cx="1676.4" cy="762.2" r="4.9" fill="url(#gg4)"/>
<circle cx="1685.9" cy="816.7" r="4.9" fill="url(#gg4)"/>
<circle cx="1865.7" cy="705.5" r="4.9" fill="url(#gg4)"/>
<circle cx="1590.3" cy="697.5" r="4.9" fill="url(#gg4)"/>
<circle cx="1861.7" cy="686.5" r="4.9" fill="url(#gg4)"/>
<circle cx="1736.3" cy="834.0" r="4.9" fill="url(#gg4)"/>
<circle cx="1904.9" cy="634.9" r="4.9" fill="url(#gg4)"/>
<circle cx="1706.7" cy="753.2" r="4.9" fill="url(#gg4)"/>
<circle cx="1672.9" cy="698.1" r="4.9" fill="url(#gg4)"/>
<circle cx="1703.3" cy="764.3" r="4.9" fill="url(#gg4)"/>
<circle cx="1682.9" cy="732.5" r="4.9" fill="url(#gg4)"/>
<circle cx="1686.3" cy="723.0" r="4.9" fill="url(#gg4)"/>
<circle cx="1675.3" cy="694.2" r="4.9" fill="url(#gg4)"/>
<circle cx="1594.9" cy="730.8" r="4.9" fill="url(#gg4)"/>
<circle cx="1720.9" cy="805.0" r="4.9" fill="url(#gg4)"/>
<circle cx="1683.3" cy="720.3" r="4.9" fill="url(#gg4)"/>
<circle cx="1914.0" cy="671.3" r="4.9" fill="url(#gg4)"/>
<circle cx="1603.7" cy="697.1" r="4.9" fill="url(#gg4)"/>
<circle cx="1691.2" cy="683.8" r="4.9" fill="url(#gg4)"/>
<circle cx="1924.7" cy="663.8" r="4.9" fill="url(#gg4)"/>
<circle cx="1918.2" cy="654.9" r="4.9" fill="url(#gg4)"/>
<circle cx="1704.8" cy="779.1" r="4.9" fill="url(#gg4)"/>
<circle cx="1589.8" cy="691.5" r="4.9" fill="url(#gg4)"/>
<circle cx="1598.9" cy="670.7" r="4.9" fill="url(#gg4)"/>
<circle cx="1646.5" cy="839.9" r="4.9" fill="url(#gg4)"/>
<circle cx="1930.7" cy="661.7" r="4.9" fill="url(#gg4)"/>
<circle cx="1746.0" cy="780.4" r="4.9" fill="url(#gg4)"/>
<circle cx="1630.5" cy="682.3" r="4.9" fill="url(#gg4)"/>
<circle cx="1613.0" cy="717.0" r="4.9" fill="url(#gg4)"/>
<circle cx="1716.9" cy="799.3" r="4.9" fill="url(#gg4)"/>
<circle cx="1737.6" cy="815.5" r="4.9" fill="url(#gg4)"/>
</svg></body></html>
